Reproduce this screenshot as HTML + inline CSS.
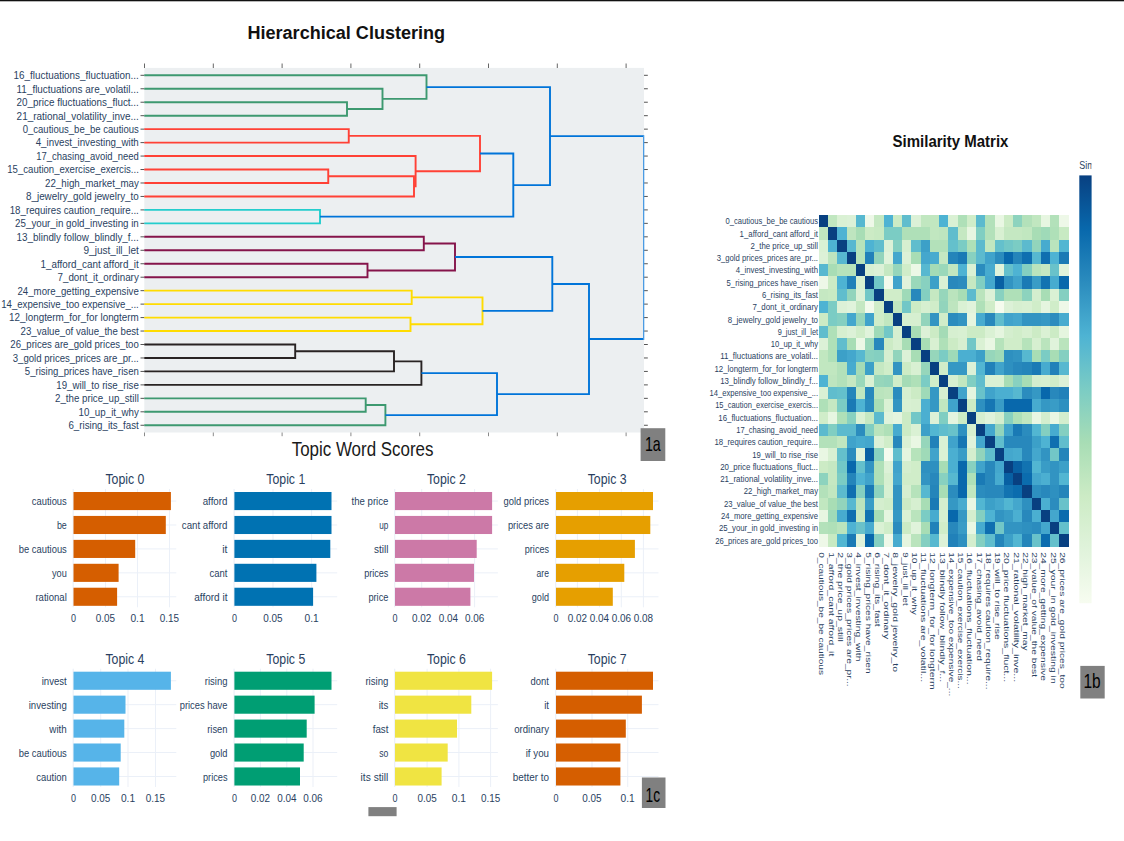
<!DOCTYPE html><html><head><meta charset="utf-8"><title>Figure</title>
<style>html,body{margin:0;padding:0;background:#fff;}svg{display:block;font-family:"Liberation Sans", sans-serif;}text{font-family:"Liberation Sans", sans-serif;}</style></head><body>
<svg width="1124" height="841" viewBox="0 0 1124 841">
<rect x="0" y="0" width="1124" height="841" fill="#ffffff"/>
<rect x="0" y="0" width="1124" height="1.3" fill="#111"/>
<rect x="144.3" y="67.9" width="499.7" height="364.6" fill="#ECEFF1"/>
<text x="346.3" y="38.8" text-anchor="middle" font-size="18" font-weight="bold" fill="#111" textLength="197.7" lengthAdjust="spacingAndGlyphs">Hierarchical Clustering</text>
<rect x="144.00" y="63.5" width="1" height="4.5" fill="#666"/>
<rect x="144.00" y="432.5" width="1" height="3.7" fill="#8a8a8a"/>
<rect x="212.80" y="63.5" width="1" height="4.5" fill="#666"/>
<rect x="212.80" y="432.5" width="1" height="3.7" fill="#8a8a8a"/>
<rect x="281.60" y="63.5" width="1" height="4.5" fill="#666"/>
<rect x="281.60" y="432.5" width="1" height="3.7" fill="#8a8a8a"/>
<rect x="350.40" y="63.5" width="1" height="4.5" fill="#666"/>
<rect x="350.40" y="432.5" width="1" height="3.7" fill="#8a8a8a"/>
<rect x="419.20" y="63.5" width="1" height="4.5" fill="#666"/>
<rect x="419.20" y="432.5" width="1" height="3.7" fill="#8a8a8a"/>
<rect x="488.00" y="63.5" width="1" height="4.5" fill="#666"/>
<rect x="488.00" y="432.5" width="1" height="3.7" fill="#8a8a8a"/>
<rect x="556.80" y="63.5" width="1" height="4.5" fill="#666"/>
<rect x="556.80" y="432.5" width="1" height="3.7" fill="#8a8a8a"/>
<rect x="625.60" y="63.5" width="1" height="4.5" fill="#666"/>
<rect x="625.60" y="432.5" width="1" height="3.7" fill="#8a8a8a"/>
<rect x="140.5" y="74.80" width="4.0" height="1" fill="#555"/>
<rect x="644.0" y="74.80" width="3.8" height="1" fill="#555"/>
<text x="138.8" y="79.15" text-anchor="end" font-size="10.2" fill="#2a3f5f" textLength="125.2" lengthAdjust="spacingAndGlyphs">16_fluctuations_fluctuation...</text>
<rect x="140.5" y="88.26" width="4.0" height="1" fill="#555"/>
<rect x="644.0" y="88.26" width="3.8" height="1" fill="#555"/>
<text x="138.8" y="92.61" text-anchor="end" font-size="10.2" fill="#2a3f5f" textLength="122.2" lengthAdjust="spacingAndGlyphs">11_fluctuations are_volatil...</text>
<rect x="140.5" y="101.72" width="4.0" height="1" fill="#555"/>
<rect x="644.0" y="101.72" width="3.8" height="1" fill="#555"/>
<text x="138.8" y="106.07" text-anchor="end" font-size="10.2" fill="#2a3f5f" textLength="122.2" lengthAdjust="spacingAndGlyphs">20_price fluctuations_fluct...</text>
<rect x="140.5" y="115.18" width="4.0" height="1" fill="#555"/>
<rect x="644.0" y="115.18" width="3.8" height="1" fill="#555"/>
<text x="138.8" y="119.53" text-anchor="end" font-size="10.2" fill="#2a3f5f" textLength="122.2" lengthAdjust="spacingAndGlyphs">21_rational_volatility_inve...</text>
<rect x="140.5" y="128.64" width="4.0" height="1" fill="#555"/>
<rect x="644.0" y="128.64" width="3.8" height="1" fill="#555"/>
<text x="138.8" y="132.99" text-anchor="end" font-size="10.2" fill="#2a3f5f" textLength="116.1" lengthAdjust="spacingAndGlyphs">0_cautious_be_be cautious</text>
<rect x="140.5" y="142.10" width="4.0" height="1" fill="#555"/>
<rect x="644.0" y="142.10" width="3.8" height="1" fill="#555"/>
<text x="138.8" y="146.45" text-anchor="end" font-size="10.2" fill="#2a3f5f" textLength="103.1" lengthAdjust="spacingAndGlyphs">4_invest_investing_with</text>
<rect x="140.5" y="155.56" width="4.0" height="1" fill="#555"/>
<rect x="644.0" y="155.56" width="3.8" height="1" fill="#555"/>
<text x="138.8" y="159.91" text-anchor="end" font-size="10.2" fill="#2a3f5f" textLength="102.5" lengthAdjust="spacingAndGlyphs">17_chasing_avoid_need</text>
<rect x="140.5" y="169.02" width="4.0" height="1" fill="#555"/>
<rect x="644.0" y="169.02" width="3.8" height="1" fill="#555"/>
<text x="138.8" y="173.37" text-anchor="end" font-size="10.2" fill="#2a3f5f" textLength="131.5" lengthAdjust="spacingAndGlyphs">15_caution_exercise_exercis...</text>
<rect x="140.5" y="182.48" width="4.0" height="1" fill="#555"/>
<rect x="644.0" y="182.48" width="3.8" height="1" fill="#555"/>
<text x="138.8" y="186.83" text-anchor="end" font-size="10.2" fill="#2a3f5f" textLength="93.7" lengthAdjust="spacingAndGlyphs">22_high_market_may</text>
<rect x="140.5" y="195.94" width="4.0" height="1" fill="#555"/>
<rect x="644.0" y="195.94" width="3.8" height="1" fill="#555"/>
<text x="138.8" y="200.29" text-anchor="end" font-size="10.2" fill="#2a3f5f" textLength="112.8" lengthAdjust="spacingAndGlyphs">8_jewelry_gold jewelry_to</text>
<rect x="140.5" y="209.40" width="4.0" height="1" fill="#555"/>
<rect x="644.0" y="209.40" width="3.8" height="1" fill="#555"/>
<text x="138.8" y="213.75" text-anchor="end" font-size="10.2" fill="#2a3f5f" textLength="129.1" lengthAdjust="spacingAndGlyphs">18_requires caution_require...</text>
<rect x="140.5" y="222.86" width="4.0" height="1" fill="#555"/>
<rect x="644.0" y="222.86" width="3.8" height="1" fill="#555"/>
<text x="138.8" y="227.21" text-anchor="end" font-size="10.2" fill="#2a3f5f" textLength="123.7" lengthAdjust="spacingAndGlyphs">25_your_in gold_investing in</text>
<rect x="140.5" y="236.32" width="4.0" height="1" fill="#555"/>
<rect x="644.0" y="236.32" width="3.8" height="1" fill="#555"/>
<text x="138.8" y="240.67" text-anchor="end" font-size="10.2" fill="#2a3f5f" textLength="122.2" lengthAdjust="spacingAndGlyphs">13_blindly follow_blindly_f...</text>
<rect x="140.5" y="249.78" width="4.0" height="1" fill="#555"/>
<rect x="644.0" y="249.78" width="3.8" height="1" fill="#555"/>
<text x="138.8" y="254.13" text-anchor="end" font-size="10.2" fill="#2a3f5f" textLength="55.3" lengthAdjust="spacingAndGlyphs">9_just_ill_let</text>
<rect x="140.5" y="263.24" width="4.0" height="1" fill="#555"/>
<rect x="644.0" y="263.24" width="3.8" height="1" fill="#555"/>
<text x="138.8" y="267.59" text-anchor="end" font-size="10.2" fill="#2a3f5f" textLength="98.3" lengthAdjust="spacingAndGlyphs">1_afford_cant afford_it</text>
<rect x="140.5" y="276.70" width="4.0" height="1" fill="#555"/>
<rect x="644.0" y="276.70" width="3.8" height="1" fill="#555"/>
<text x="138.8" y="281.05" text-anchor="end" font-size="10.2" fill="#2a3f5f" textLength="81.3" lengthAdjust="spacingAndGlyphs">7_dont_it_ordinary</text>
<rect x="140.5" y="290.16" width="4.0" height="1" fill="#555"/>
<rect x="644.0" y="290.16" width="3.8" height="1" fill="#555"/>
<text x="138.8" y="294.51" text-anchor="end" font-size="10.2" fill="#2a3f5f" textLength="121.3" lengthAdjust="spacingAndGlyphs">24_more_getting_expensive</text>
<rect x="140.5" y="303.62" width="4.0" height="1" fill="#555"/>
<rect x="644.0" y="303.62" width="3.8" height="1" fill="#555"/>
<text x="138.8" y="307.97" text-anchor="end" font-size="10.2" fill="#2a3f5f" textLength="137.6" lengthAdjust="spacingAndGlyphs">14_expensive_too expensive_...</text>
<rect x="140.5" y="317.08" width="4.0" height="1" fill="#555"/>
<rect x="644.0" y="317.08" width="3.8" height="1" fill="#555"/>
<text x="138.8" y="321.43" text-anchor="end" font-size="10.2" fill="#2a3f5f" textLength="129.7" lengthAdjust="spacingAndGlyphs">12_longterm_for_for longterm</text>
<rect x="140.5" y="330.54" width="4.0" height="1" fill="#555"/>
<rect x="644.0" y="330.54" width="3.8" height="1" fill="#555"/>
<text x="138.8" y="334.89" text-anchor="end" font-size="10.2" fill="#2a3f5f" textLength="118.2" lengthAdjust="spacingAndGlyphs">23_value_of value_the best</text>
<rect x="140.5" y="344.00" width="4.0" height="1" fill="#555"/>
<rect x="644.0" y="344.00" width="3.8" height="1" fill="#555"/>
<text x="138.8" y="348.35" text-anchor="end" font-size="10.2" fill="#2a3f5f" textLength="128.5" lengthAdjust="spacingAndGlyphs">26_prices are_gold prices_too</text>
<rect x="140.5" y="357.46" width="4.0" height="1" fill="#555"/>
<rect x="644.0" y="357.46" width="3.8" height="1" fill="#555"/>
<text x="138.8" y="361.81" text-anchor="end" font-size="10.2" fill="#2a3f5f" textLength="126.1" lengthAdjust="spacingAndGlyphs">3_gold prices_prices are_pr...</text>
<rect x="140.5" y="370.92" width="4.0" height="1" fill="#555"/>
<rect x="644.0" y="370.92" width="3.8" height="1" fill="#555"/>
<text x="138.8" y="375.27" text-anchor="end" font-size="10.2" fill="#2a3f5f" textLength="114.0" lengthAdjust="spacingAndGlyphs">5_rising_prices have_risen</text>
<rect x="140.5" y="384.38" width="4.0" height="1" fill="#555"/>
<rect x="644.0" y="384.38" width="3.8" height="1" fill="#555"/>
<text x="138.8" y="388.73" text-anchor="end" font-size="10.2" fill="#2a3f5f" textLength="82.5" lengthAdjust="spacingAndGlyphs">19_will_to rise_rise</text>
<rect x="140.5" y="397.84" width="4.0" height="1" fill="#555"/>
<rect x="644.0" y="397.84" width="3.8" height="1" fill="#555"/>
<text x="138.8" y="402.19" text-anchor="end" font-size="10.2" fill="#2a3f5f" textLength="83.8" lengthAdjust="spacingAndGlyphs">2_the price_up_still</text>
<rect x="140.5" y="411.30" width="4.0" height="1" fill="#555"/>
<rect x="644.0" y="411.30" width="3.8" height="1" fill="#555"/>
<text x="138.8" y="415.65" text-anchor="end" font-size="10.2" fill="#2a3f5f" textLength="60.2" lengthAdjust="spacingAndGlyphs">10_up_it_why</text>
<rect x="140.5" y="424.76" width="4.0" height="1" fill="#555"/>
<rect x="644.0" y="424.76" width="3.8" height="1" fill="#555"/>
<text x="138.8" y="429.11" text-anchor="end" font-size="10.2" fill="#2a3f5f" textLength="70.4" lengthAdjust="spacingAndGlyphs">6_rising_its_fast</text>
<g fill="none" stroke-width="1.9" stroke-linejoin="miter">
<path d="M144.30 102.22H347.00V115.68H144.30" stroke="#3D9970"/>
<path d="M144.30 88.76H382.50V108.95H347.00" stroke="#3D9970"/>
<path d="M144.30 75.30H426.50V98.85H382.50" stroke="#3D9970"/>
<path d="M144.30 129.14H348.75V142.60H144.30" stroke="#FF4136"/>
<path d="M144.30 169.52H328.25V182.98H144.30" stroke="#FF4136"/>
<path d="M328.25 176.25H414.00V196.44H144.30" stroke="#FF4136"/>
<path d="M144.30 156.06H415.60V186.34H414.00" stroke="#FF4136"/>
<path d="M348.75 135.87H480.00V171.20H415.60" stroke="#FF4136"/>
<path d="M144.30 209.90H320.00V223.36H144.30" stroke="#23CDCD"/>
<path d="M480.00 153.54H513.30V216.63H320.00" stroke="#0074D9"/>
<path d="M426.50 87.08H550.00V185.08H513.30" stroke="#0074D9"/>
<path d="M144.30 236.82H423.80V250.28H144.30" stroke="#85144B"/>
<path d="M144.30 263.74H367.50V277.20H144.30" stroke="#85144B"/>
<path d="M423.80 243.55H455.00V270.47H367.50" stroke="#85144B"/>
<path d="M144.30 290.66H411.70V304.12H144.30" stroke="#FFDC00"/>
<path d="M144.30 317.58H410.50V331.04H144.30" stroke="#FFDC00"/>
<path d="M411.70 297.39H482.50V324.31H410.50" stroke="#FFDC00"/>
<path d="M455.00 257.01H552.30V310.85H482.50" stroke="#0074D9"/>
<path d="M144.30 344.50H295.20V357.96H144.30" stroke="#282323"/>
<path d="M295.20 351.23H394.00V371.42H144.30" stroke="#282323"/>
<path d="M394.00 361.33H421.40V384.88H144.30" stroke="#282323"/>
<path d="M144.30 398.34H365.70V411.80H144.30" stroke="#3D9970"/>
<path d="M365.70 405.07H385.40V425.26H144.30" stroke="#3D9970"/>
<path d="M421.40 373.10H497.00V415.17H385.40" stroke="#0074D9"/>
<path d="M552.30 283.93H589.00V394.13H497.00" stroke="#0074D9"/>
<path d="M550.00 136.08H643.8M589.00 339.03H643.8" stroke="#0074D9"/>
</g>
<rect x="643.0" y="135.18" width="1.3" height="204.75" fill="#4b9be3"/>
<rect x="640.6" y="428.2" width="24.7" height="32.8" fill="#808080"/>
<text x="644.9" y="451.0" font-size="20.7" fill="#000" textLength="15.8" lengthAdjust="spacingAndGlyphs">1a</text>
<text x="362.6" y="455.7" text-anchor="middle" font-size="19.8" fill="#1a1a1a" textLength="141.8" lengthAdjust="spacingAndGlyphs">Topic Word Scores</text>
<rect x="105.00" y="489.0" width="1" height="118.3" fill="#EBF0F8"/>
<rect x="137.00" y="489.0" width="1" height="118.3" fill="#EBF0F8"/>
<rect x="169.00" y="489.0" width="1" height="118.3" fill="#EBF0F8"/>
<rect x="73.5" y="500.55" width="102.8" height="1" fill="#EBF0F8"/>
<rect x="73.5" y="524.48" width="102.8" height="1" fill="#EBF0F8"/>
<rect x="73.5" y="548.41" width="102.8" height="1" fill="#EBF0F8"/>
<rect x="73.5" y="572.34" width="102.8" height="1" fill="#EBF0F8"/>
<rect x="73.5" y="596.27" width="102.8" height="1" fill="#EBF0F8"/>
<rect x="72.60" y="489.0" width="1.2" height="118.3" fill="#EBF0F8"/>
<rect x="73.5" y="492.00" width="97.4" height="18.1" fill="#D55E00"/>
<text x="66.8" y="505.35" text-anchor="end" font-size="10.5" fill="#2a3f5f" textLength="35.0" lengthAdjust="spacingAndGlyphs">cautious</text>
<rect x="73.5" y="515.93" width="92.3" height="18.1" fill="#D55E00"/>
<text x="66.8" y="529.28" text-anchor="end" font-size="10.5" fill="#2a3f5f" textLength="9.9" lengthAdjust="spacingAndGlyphs">be</text>
<rect x="73.5" y="539.86" width="61.7" height="18.1" fill="#D55E00"/>
<text x="66.8" y="553.21" text-anchor="end" font-size="10.5" fill="#2a3f5f" textLength="48.0" lengthAdjust="spacingAndGlyphs">be cautious</text>
<rect x="73.5" y="563.79" width="45.1" height="18.1" fill="#D55E00"/>
<text x="66.8" y="577.14" text-anchor="end" font-size="10.5" fill="#2a3f5f" textLength="14.8" lengthAdjust="spacingAndGlyphs">you</text>
<rect x="73.5" y="587.72" width="43.6" height="18.1" fill="#D55E00"/>
<text x="66.8" y="601.07" text-anchor="end" font-size="10.5" fill="#2a3f5f" textLength="31.4" lengthAdjust="spacingAndGlyphs">rational</text>
<text x="73.5" y="622.0" text-anchor="middle" font-size="10.4" fill="#2a3f5f" textLength="5.0" lengthAdjust="spacingAndGlyphs">0</text>
<text x="105.5" y="622.0" text-anchor="middle" font-size="10.4" fill="#2a3f5f" textLength="19.3" lengthAdjust="spacingAndGlyphs">0.05</text>
<text x="137.5" y="622.0" text-anchor="middle" font-size="10.4" fill="#2a3f5f" textLength="14.2" lengthAdjust="spacingAndGlyphs">0.1</text>
<text x="169.5" y="622.0" text-anchor="middle" font-size="10.4" fill="#2a3f5f" textLength="19.3" lengthAdjust="spacingAndGlyphs">0.15</text>
<text x="124.9" y="484.4" text-anchor="middle" font-size="14.7" fill="#2a3f5f" textLength="39" lengthAdjust="spacingAndGlyphs">Topic 0</text>
<rect x="272.50" y="489.0" width="1" height="118.3" fill="#EBF0F8"/>
<rect x="311.10" y="489.0" width="1" height="118.3" fill="#EBF0F8"/>
<rect x="234.4" y="500.55" width="102.8" height="1" fill="#EBF0F8"/>
<rect x="234.4" y="524.48" width="102.8" height="1" fill="#EBF0F8"/>
<rect x="234.4" y="548.41" width="102.8" height="1" fill="#EBF0F8"/>
<rect x="234.4" y="572.34" width="102.8" height="1" fill="#EBF0F8"/>
<rect x="234.4" y="596.27" width="102.8" height="1" fill="#EBF0F8"/>
<rect x="233.50" y="489.0" width="1.2" height="118.3" fill="#EBF0F8"/>
<rect x="234.4" y="492.00" width="97.1" height="18.1" fill="#0072B2"/>
<text x="227.5" y="505.35" text-anchor="end" font-size="10.5" fill="#2a3f5f" textLength="24.8" lengthAdjust="spacingAndGlyphs">afford</text>
<rect x="234.4" y="515.93" width="97.1" height="18.1" fill="#0072B2"/>
<text x="227.5" y="529.28" text-anchor="end" font-size="10.5" fill="#2a3f5f" textLength="45.7" lengthAdjust="spacingAndGlyphs">cant afford</text>
<rect x="234.4" y="539.86" width="95.9" height="18.1" fill="#0072B2"/>
<text x="227.5" y="553.21" text-anchor="end" font-size="10.5" fill="#2a3f5f" textLength="5.2" lengthAdjust="spacingAndGlyphs">it</text>
<rect x="234.4" y="563.79" width="82.0" height="18.1" fill="#0072B2"/>
<text x="227.5" y="577.14" text-anchor="end" font-size="10.5" fill="#2a3f5f" textLength="17.9" lengthAdjust="spacingAndGlyphs">cant</text>
<rect x="234.4" y="587.72" width="78.7" height="18.1" fill="#0072B2"/>
<text x="227.5" y="601.07" text-anchor="end" font-size="10.5" fill="#2a3f5f" textLength="33.3" lengthAdjust="spacingAndGlyphs">afford it</text>
<text x="234.4" y="622.0" text-anchor="middle" font-size="10.4" fill="#2a3f5f" textLength="5.0" lengthAdjust="spacingAndGlyphs">0</text>
<text x="273.0" y="622.0" text-anchor="middle" font-size="10.4" fill="#2a3f5f" textLength="19.3" lengthAdjust="spacingAndGlyphs">0.05</text>
<text x="311.6" y="622.0" text-anchor="middle" font-size="10.4" fill="#2a3f5f" textLength="14.2" lengthAdjust="spacingAndGlyphs">0.1</text>
<text x="285.8" y="484.4" text-anchor="middle" font-size="14.7" fill="#2a3f5f" textLength="39" lengthAdjust="spacingAndGlyphs">Topic 1</text>
<rect x="421.20" y="489.0" width="1" height="118.3" fill="#EBF0F8"/>
<rect x="447.80" y="489.0" width="1" height="118.3" fill="#EBF0F8"/>
<rect x="474.10" y="489.0" width="1" height="118.3" fill="#EBF0F8"/>
<rect x="395.0" y="500.55" width="102.9" height="1" fill="#EBF0F8"/>
<rect x="395.0" y="524.48" width="102.9" height="1" fill="#EBF0F8"/>
<rect x="395.0" y="548.41" width="102.9" height="1" fill="#EBF0F8"/>
<rect x="395.0" y="572.34" width="102.9" height="1" fill="#EBF0F8"/>
<rect x="395.0" y="596.27" width="102.9" height="1" fill="#EBF0F8"/>
<rect x="394.10" y="489.0" width="1.2" height="118.3" fill="#EBF0F8"/>
<rect x="395.0" y="492.00" width="97.1" height="18.1" fill="#CC79A7"/>
<text x="388.4" y="505.35" text-anchor="end" font-size="10.5" fill="#2a3f5f" textLength="36.9" lengthAdjust="spacingAndGlyphs">the price</text>
<rect x="395.0" y="515.93" width="97.1" height="18.1" fill="#CC79A7"/>
<text x="388.4" y="529.28" text-anchor="end" font-size="10.5" fill="#2a3f5f" textLength="9.1" lengthAdjust="spacingAndGlyphs">up</text>
<rect x="395.0" y="539.86" width="81.7" height="18.1" fill="#CC79A7"/>
<text x="388.4" y="553.21" text-anchor="end" font-size="10.5" fill="#2a3f5f" textLength="14.5" lengthAdjust="spacingAndGlyphs">still</text>
<rect x="395.0" y="563.79" width="79.0" height="18.1" fill="#CC79A7"/>
<text x="388.4" y="577.14" text-anchor="end" font-size="10.5" fill="#2a3f5f" textLength="24.2" lengthAdjust="spacingAndGlyphs">prices</text>
<rect x="395.0" y="587.72" width="75.4" height="18.1" fill="#CC79A7"/>
<text x="388.4" y="601.07" text-anchor="end" font-size="10.5" fill="#2a3f5f" textLength="20.0" lengthAdjust="spacingAndGlyphs">price</text>
<text x="395.0" y="622.0" text-anchor="middle" font-size="10.4" fill="#2a3f5f" textLength="5.0" lengthAdjust="spacingAndGlyphs">0</text>
<text x="421.7" y="622.0" text-anchor="middle" font-size="10.4" fill="#2a3f5f" textLength="19.3" lengthAdjust="spacingAndGlyphs">0.02</text>
<text x="448.3" y="622.0" text-anchor="middle" font-size="10.4" fill="#2a3f5f" textLength="19.3" lengthAdjust="spacingAndGlyphs">0.04</text>
<text x="474.6" y="622.0" text-anchor="middle" font-size="10.4" fill="#2a3f5f" textLength="19.3" lengthAdjust="spacingAndGlyphs">0.06</text>
<text x="446.4" y="484.4" text-anchor="middle" font-size="14.7" fill="#2a3f5f" textLength="39" lengthAdjust="spacingAndGlyphs">Topic 2</text>
<rect x="576.90" y="489.0" width="1" height="118.3" fill="#EBF0F8"/>
<rect x="599.00" y="489.0" width="1" height="118.3" fill="#EBF0F8"/>
<rect x="620.80" y="489.0" width="1" height="118.3" fill="#EBF0F8"/>
<rect x="642.90" y="489.0" width="1" height="118.3" fill="#EBF0F8"/>
<rect x="556.0" y="500.55" width="102.5" height="1" fill="#EBF0F8"/>
<rect x="556.0" y="524.48" width="102.5" height="1" fill="#EBF0F8"/>
<rect x="556.0" y="548.41" width="102.5" height="1" fill="#EBF0F8"/>
<rect x="556.0" y="572.34" width="102.5" height="1" fill="#EBF0F8"/>
<rect x="556.0" y="596.27" width="102.5" height="1" fill="#EBF0F8"/>
<rect x="555.10" y="489.0" width="1.2" height="118.3" fill="#EBF0F8"/>
<rect x="556.0" y="492.00" width="97.0" height="18.1" fill="#E69F00"/>
<text x="549.0" y="505.35" text-anchor="end" font-size="10.5" fill="#2a3f5f" textLength="45.4" lengthAdjust="spacingAndGlyphs">gold prices</text>
<rect x="556.0" y="515.93" width="94.3" height="18.1" fill="#E69F00"/>
<text x="549.0" y="529.28" text-anchor="end" font-size="10.5" fill="#2a3f5f" textLength="41.1" lengthAdjust="spacingAndGlyphs">prices are</text>
<rect x="556.0" y="539.86" width="78.9" height="18.1" fill="#E69F00"/>
<text x="549.0" y="553.21" text-anchor="end" font-size="10.5" fill="#2a3f5f" textLength="24.2" lengthAdjust="spacingAndGlyphs">prices</text>
<rect x="556.0" y="563.79" width="68.3" height="18.1" fill="#E69F00"/>
<text x="549.0" y="577.14" text-anchor="end" font-size="10.5" fill="#2a3f5f" textLength="12.4" lengthAdjust="spacingAndGlyphs">are</text>
<rect x="556.0" y="587.72" width="56.8" height="18.1" fill="#E69F00"/>
<text x="549.0" y="601.07" text-anchor="end" font-size="10.5" fill="#2a3f5f" textLength="17.2" lengthAdjust="spacingAndGlyphs">gold</text>
<text x="556.0" y="622.0" text-anchor="middle" font-size="10.4" fill="#2a3f5f" textLength="5.0" lengthAdjust="spacingAndGlyphs">0</text>
<text x="577.4" y="622.0" text-anchor="middle" font-size="10.4" fill="#2a3f5f" textLength="19.3" lengthAdjust="spacingAndGlyphs">0.02</text>
<text x="599.5" y="622.0" text-anchor="middle" font-size="10.4" fill="#2a3f5f" textLength="19.3" lengthAdjust="spacingAndGlyphs">0.04</text>
<text x="621.3" y="622.0" text-anchor="middle" font-size="10.4" fill="#2a3f5f" textLength="19.3" lengthAdjust="spacingAndGlyphs">0.06</text>
<text x="643.4" y="622.0" text-anchor="middle" font-size="10.4" fill="#2a3f5f" textLength="19.3" lengthAdjust="spacingAndGlyphs">0.08</text>
<text x="607.2" y="484.4" text-anchor="middle" font-size="14.7" fill="#2a3f5f" textLength="39" lengthAdjust="spacingAndGlyphs">Topic 3</text>
<rect x="100.20" y="668.7" width="1" height="118.3" fill="#EBF0F8"/>
<rect x="127.50" y="668.7" width="1" height="118.3" fill="#EBF0F8"/>
<rect x="155.00" y="668.7" width="1" height="118.3" fill="#EBF0F8"/>
<rect x="73.5" y="680.25" width="102.8" height="1" fill="#EBF0F8"/>
<rect x="73.5" y="704.18" width="102.8" height="1" fill="#EBF0F8"/>
<rect x="73.5" y="728.11" width="102.8" height="1" fill="#EBF0F8"/>
<rect x="73.5" y="752.04" width="102.8" height="1" fill="#EBF0F8"/>
<rect x="73.5" y="775.97" width="102.8" height="1" fill="#EBF0F8"/>
<rect x="72.60" y="668.7" width="1.2" height="118.3" fill="#EBF0F8"/>
<rect x="73.5" y="671.70" width="97.4" height="18.1" fill="#56B4E9"/>
<text x="66.8" y="685.05" text-anchor="end" font-size="10.5" fill="#2a3f5f" textLength="25.1" lengthAdjust="spacingAndGlyphs">invest</text>
<rect x="73.5" y="695.63" width="52.0" height="18.1" fill="#56B4E9"/>
<text x="66.8" y="708.98" text-anchor="end" font-size="10.5" fill="#2a3f5f" textLength="38.1" lengthAdjust="spacingAndGlyphs">investing</text>
<rect x="73.5" y="719.56" width="50.8" height="18.1" fill="#56B4E9"/>
<text x="66.8" y="732.91" text-anchor="end" font-size="10.5" fill="#2a3f5f" textLength="17.5" lengthAdjust="spacingAndGlyphs">with</text>
<rect x="73.5" y="743.49" width="47.2" height="18.1" fill="#56B4E9"/>
<text x="66.8" y="756.84" text-anchor="end" font-size="10.5" fill="#2a3f5f" textLength="48.0" lengthAdjust="spacingAndGlyphs">be cautious</text>
<rect x="73.5" y="767.42" width="45.7" height="18.1" fill="#56B4E9"/>
<text x="66.8" y="780.77" text-anchor="end" font-size="10.5" fill="#2a3f5f" textLength="30.5" lengthAdjust="spacingAndGlyphs">caution</text>
<text x="73.5" y="801.6" text-anchor="middle" font-size="10.4" fill="#2a3f5f" textLength="5.0" lengthAdjust="spacingAndGlyphs">0</text>
<text x="100.7" y="801.6" text-anchor="middle" font-size="10.4" fill="#2a3f5f" textLength="19.3" lengthAdjust="spacingAndGlyphs">0.05</text>
<text x="128.0" y="801.6" text-anchor="middle" font-size="10.4" fill="#2a3f5f" textLength="14.2" lengthAdjust="spacingAndGlyphs">0.1</text>
<text x="155.5" y="801.6" text-anchor="middle" font-size="10.4" fill="#2a3f5f" textLength="19.3" lengthAdjust="spacingAndGlyphs">0.15</text>
<text x="124.9" y="663.9" text-anchor="middle" font-size="14.7" fill="#2a3f5f" textLength="39" lengthAdjust="spacingAndGlyphs">Topic 4</text>
<rect x="259.90" y="668.7" width="1" height="118.3" fill="#EBF0F8"/>
<rect x="286.30" y="668.7" width="1" height="118.3" fill="#EBF0F8"/>
<rect x="312.50" y="668.7" width="1" height="118.3" fill="#EBF0F8"/>
<rect x="234.4" y="680.25" width="102.8" height="1" fill="#EBF0F8"/>
<rect x="234.4" y="704.18" width="102.8" height="1" fill="#EBF0F8"/>
<rect x="234.4" y="728.11" width="102.8" height="1" fill="#EBF0F8"/>
<rect x="234.4" y="752.04" width="102.8" height="1" fill="#EBF0F8"/>
<rect x="234.4" y="775.97" width="102.8" height="1" fill="#EBF0F8"/>
<rect x="233.50" y="668.7" width="1.2" height="118.3" fill="#EBF0F8"/>
<rect x="234.4" y="671.70" width="97.1" height="18.1" fill="#009E73"/>
<text x="227.5" y="685.05" text-anchor="end" font-size="10.5" fill="#2a3f5f" textLength="22.7" lengthAdjust="spacingAndGlyphs">rising</text>
<rect x="234.4" y="695.63" width="80.2" height="18.1" fill="#009E73"/>
<text x="227.5" y="708.98" text-anchor="end" font-size="10.5" fill="#2a3f5f" textLength="47.8" lengthAdjust="spacingAndGlyphs">prices have</text>
<rect x="234.4" y="719.56" width="72.3" height="18.1" fill="#009E73"/>
<text x="227.5" y="732.91" text-anchor="end" font-size="10.5" fill="#2a3f5f" textLength="20.3" lengthAdjust="spacingAndGlyphs">risen</text>
<rect x="234.4" y="743.49" width="69.3" height="18.1" fill="#009E73"/>
<text x="227.5" y="756.84" text-anchor="end" font-size="10.5" fill="#2a3f5f" textLength="17.6" lengthAdjust="spacingAndGlyphs">gold</text>
<rect x="234.4" y="767.42" width="65.6" height="18.1" fill="#009E73"/>
<text x="227.5" y="780.77" text-anchor="end" font-size="10.5" fill="#2a3f5f" textLength="24.5" lengthAdjust="spacingAndGlyphs">prices</text>
<text x="234.4" y="801.6" text-anchor="middle" font-size="10.4" fill="#2a3f5f" textLength="5.0" lengthAdjust="spacingAndGlyphs">0</text>
<text x="260.4" y="801.6" text-anchor="middle" font-size="10.4" fill="#2a3f5f" textLength="19.3" lengthAdjust="spacingAndGlyphs">0.02</text>
<text x="286.8" y="801.6" text-anchor="middle" font-size="10.4" fill="#2a3f5f" textLength="19.3" lengthAdjust="spacingAndGlyphs">0.04</text>
<text x="313.0" y="801.6" text-anchor="middle" font-size="10.4" fill="#2a3f5f" textLength="19.3" lengthAdjust="spacingAndGlyphs">0.06</text>
<text x="285.8" y="663.9" text-anchor="middle" font-size="14.7" fill="#2a3f5f" textLength="39" lengthAdjust="spacingAndGlyphs">Topic 5</text>
<rect x="426.60" y="668.7" width="1" height="118.3" fill="#EBF0F8"/>
<rect x="458.40" y="668.7" width="1" height="118.3" fill="#EBF0F8"/>
<rect x="490.10" y="668.7" width="1" height="118.3" fill="#EBF0F8"/>
<rect x="395.0" y="680.25" width="102.9" height="1" fill="#EBF0F8"/>
<rect x="395.0" y="704.18" width="102.9" height="1" fill="#EBF0F8"/>
<rect x="395.0" y="728.11" width="102.9" height="1" fill="#EBF0F8"/>
<rect x="395.0" y="752.04" width="102.9" height="1" fill="#EBF0F8"/>
<rect x="395.0" y="775.97" width="102.9" height="1" fill="#EBF0F8"/>
<rect x="394.10" y="668.7" width="1.2" height="118.3" fill="#EBF0F8"/>
<rect x="395.0" y="671.70" width="97.1" height="18.1" fill="#F0E442"/>
<text x="388.4" y="685.05" text-anchor="end" font-size="10.5" fill="#2a3f5f" textLength="23.0" lengthAdjust="spacingAndGlyphs">rising</text>
<rect x="395.0" y="695.63" width="76.3" height="18.1" fill="#F0E442"/>
<text x="388.4" y="708.98" text-anchor="end" font-size="10.5" fill="#2a3f5f" textLength="9.7" lengthAdjust="spacingAndGlyphs">its</text>
<rect x="395.0" y="719.56" width="62.0" height="18.1" fill="#F0E442"/>
<text x="388.4" y="732.91" text-anchor="end" font-size="10.5" fill="#2a3f5f" textLength="15.7" lengthAdjust="spacingAndGlyphs">fast</text>
<rect x="395.0" y="743.49" width="52.7" height="18.1" fill="#F0E442"/>
<text x="388.4" y="756.84" text-anchor="end" font-size="10.5" fill="#2a3f5f" textLength="9.1" lengthAdjust="spacingAndGlyphs">so</text>
<rect x="395.0" y="767.42" width="46.6" height="18.1" fill="#F0E442"/>
<text x="388.4" y="780.77" text-anchor="end" font-size="10.5" fill="#2a3f5f" textLength="27.8" lengthAdjust="spacingAndGlyphs">its still</text>
<text x="395.0" y="801.6" text-anchor="middle" font-size="10.4" fill="#2a3f5f" textLength="5.0" lengthAdjust="spacingAndGlyphs">0</text>
<text x="427.1" y="801.6" text-anchor="middle" font-size="10.4" fill="#2a3f5f" textLength="19.3" lengthAdjust="spacingAndGlyphs">0.05</text>
<text x="458.9" y="801.6" text-anchor="middle" font-size="10.4" fill="#2a3f5f" textLength="14.2" lengthAdjust="spacingAndGlyphs">0.1</text>
<text x="490.6" y="801.6" text-anchor="middle" font-size="10.4" fill="#2a3f5f" textLength="19.3" lengthAdjust="spacingAndGlyphs">0.15</text>
<text x="446.4" y="663.9" text-anchor="middle" font-size="14.7" fill="#2a3f5f" textLength="39" lengthAdjust="spacingAndGlyphs">Topic 6</text>
<rect x="591.50" y="668.7" width="1" height="118.3" fill="#EBF0F8"/>
<rect x="627.20" y="668.7" width="1" height="118.3" fill="#EBF0F8"/>
<rect x="556.0" y="680.25" width="102.5" height="1" fill="#EBF0F8"/>
<rect x="556.0" y="704.18" width="102.5" height="1" fill="#EBF0F8"/>
<rect x="556.0" y="728.11" width="102.5" height="1" fill="#EBF0F8"/>
<rect x="556.0" y="752.04" width="102.5" height="1" fill="#EBF0F8"/>
<rect x="556.0" y="775.97" width="102.5" height="1" fill="#EBF0F8"/>
<rect x="555.10" y="668.7" width="1.2" height="118.3" fill="#EBF0F8"/>
<rect x="556.0" y="671.70" width="97.0" height="18.1" fill="#D55E00"/>
<text x="549.0" y="685.05" text-anchor="end" font-size="10.5" fill="#2a3f5f" textLength="18.4" lengthAdjust="spacingAndGlyphs">dont</text>
<rect x="556.0" y="695.63" width="85.9" height="18.1" fill="#D55E00"/>
<text x="549.0" y="708.98" text-anchor="end" font-size="10.5" fill="#2a3f5f" textLength="4.8" lengthAdjust="spacingAndGlyphs">it</text>
<rect x="556.0" y="719.56" width="69.8" height="18.1" fill="#D55E00"/>
<text x="549.0" y="732.91" text-anchor="end" font-size="10.5" fill="#2a3f5f" textLength="34.8" lengthAdjust="spacingAndGlyphs">ordinary</text>
<rect x="556.0" y="743.49" width="64.4" height="18.1" fill="#D55E00"/>
<text x="549.0" y="756.84" text-anchor="end" font-size="10.5" fill="#2a3f5f" textLength="23.3" lengthAdjust="spacingAndGlyphs">if you</text>
<rect x="556.0" y="767.42" width="64.4" height="18.1" fill="#D55E00"/>
<text x="549.0" y="780.77" text-anchor="end" font-size="10.5" fill="#2a3f5f" textLength="36.3" lengthAdjust="spacingAndGlyphs">better to</text>
<text x="556.0" y="801.6" text-anchor="middle" font-size="10.4" fill="#2a3f5f" textLength="5.0" lengthAdjust="spacingAndGlyphs">0</text>
<text x="592.0" y="801.6" text-anchor="middle" font-size="10.4" fill="#2a3f5f" textLength="19.3" lengthAdjust="spacingAndGlyphs">0.05</text>
<text x="627.7" y="801.6" text-anchor="middle" font-size="10.4" fill="#2a3f5f" textLength="14.2" lengthAdjust="spacingAndGlyphs">0.1</text>
<text x="607.2" y="663.9" text-anchor="middle" font-size="14.7" fill="#2a3f5f" textLength="39" lengthAdjust="spacingAndGlyphs">Topic 7</text>
<rect x="641.9" y="777.5" width="23.6" height="30.5" fill="#808080"/>
<text x="645.5" y="801.7" font-size="20.3" fill="#000" textLength="14.5" lengthAdjust="spacingAndGlyphs">1c</text>
<rect x="368.4" y="807.1" width="28.2" height="9.1" fill="#808080"/>
<text x="950.5" y="147.1" text-anchor="middle" font-size="16.3" font-weight="bold" fill="#111" textLength="115.9" lengthAdjust="spacingAndGlyphs">Similarity Matrix</text>
<g shape-rendering="crispEdges">
<rect x="818.90" y="215.00" width="9.55" height="12.58" fill="#084081"/>
<rect x="828.15" y="215.00" width="9.55" height="12.58" fill="#c1e7c0"/>
<rect x="837.40" y="215.00" width="9.55" height="12.58" fill="#daf1d4"/>
<rect x="846.66" y="215.00" width="9.55" height="12.58" fill="#dcf1d7"/>
<rect x="855.91" y="215.00" width="9.55" height="12.58" fill="#57b8d0"/>
<rect x="865.16" y="215.00" width="9.55" height="12.58" fill="#eef8e8"/>
<rect x="874.41" y="215.00" width="9.55" height="12.58" fill="#c5e8c2"/>
<rect x="883.66" y="215.00" width="9.55" height="12.58" fill="#4eb3d3"/>
<rect x="892.92" y="215.00" width="9.55" height="12.58" fill="#ccebc5"/>
<rect x="902.17" y="215.00" width="9.55" height="12.58" fill="#60bdcd"/>
<rect x="911.42" y="215.00" width="9.55" height="12.58" fill="#dcf1d7"/>
<rect x="920.67" y="215.00" width="9.55" height="12.58" fill="#c1e7c0"/>
<rect x="929.92" y="215.00" width="9.55" height="12.58" fill="#c1e7c0"/>
<rect x="939.18" y="215.00" width="9.55" height="12.58" fill="#4eb3d3"/>
<rect x="948.43" y="215.00" width="9.55" height="12.58" fill="#daf1d4"/>
<rect x="957.68" y="215.00" width="9.55" height="12.58" fill="#afe0b8"/>
<rect x="966.93" y="215.00" width="9.55" height="12.58" fill="#d0edc9"/>
<rect x="976.18" y="215.00" width="9.55" height="12.58" fill="#5cbace"/>
<rect x="985.44" y="215.00" width="9.55" height="12.58" fill="#b3e1ba"/>
<rect x="994.69" y="215.00" width="9.55" height="12.58" fill="#e9f7e3"/>
<rect x="1003.94" y="215.00" width="9.55" height="12.58" fill="#ccebc5"/>
<rect x="1013.19" y="215.00" width="9.55" height="12.58" fill="#8dd3be"/>
<rect x="1022.44" y="215.00" width="9.55" height="12.58" fill="#b3e1ba"/>
<rect x="1031.70" y="215.00" width="9.55" height="12.58" fill="#c1e7c0"/>
<rect x="1040.95" y="215.00" width="9.55" height="12.58" fill="#e7f6e1"/>
<rect x="1050.20" y="215.00" width="9.55" height="12.58" fill="#b3e1ba"/>
<rect x="1059.45" y="215.00" width="9.55" height="12.58" fill="#eef8e8"/>
<rect x="818.90" y="227.28" width="9.55" height="12.58" fill="#c1e7c0"/>
<rect x="828.15" y="227.28" width="9.55" height="12.58" fill="#084081"/>
<rect x="837.40" y="227.28" width="9.55" height="12.58" fill="#4eb3d3"/>
<rect x="846.66" y="227.28" width="9.55" height="12.58" fill="#bee5bf"/>
<rect x="855.91" y="227.28" width="9.55" height="12.58" fill="#a8ddb5"/>
<rect x="865.16" y="227.28" width="9.55" height="12.58" fill="#ccebc5"/>
<rect x="874.41" y="227.28" width="9.55" height="12.58" fill="#c8eac3"/>
<rect x="883.66" y="227.28" width="9.55" height="12.58" fill="#7bccc4"/>
<rect x="892.92" y="227.28" width="9.55" height="12.58" fill="#7bccc4"/>
<rect x="902.17" y="227.28" width="9.55" height="12.58" fill="#afe0b8"/>
<rect x="911.42" y="227.28" width="9.55" height="12.58" fill="#afe0b8"/>
<rect x="920.67" y="227.28" width="9.55" height="12.58" fill="#afe0b8"/>
<rect x="929.92" y="227.28" width="9.55" height="12.58" fill="#c1e7c0"/>
<rect x="939.18" y="227.28" width="9.55" height="12.58" fill="#bee5bf"/>
<rect x="948.43" y="227.28" width="9.55" height="12.58" fill="#60bdcd"/>
<rect x="957.68" y="227.28" width="9.55" height="12.58" fill="#c5e8c2"/>
<rect x="966.93" y="227.28" width="9.55" height="12.58" fill="#e7f6e1"/>
<rect x="976.18" y="227.28" width="9.55" height="12.58" fill="#80cec2"/>
<rect x="985.44" y="227.28" width="9.55" height="12.58" fill="#b3e1ba"/>
<rect x="994.69" y="227.28" width="9.55" height="12.58" fill="#d8f0d2"/>
<rect x="1003.94" y="227.28" width="9.55" height="12.58" fill="#c5e8c2"/>
<rect x="1013.19" y="227.28" width="9.55" height="12.58" fill="#c5e8c2"/>
<rect x="1022.44" y="227.28" width="9.55" height="12.58" fill="#c1e7c0"/>
<rect x="1031.70" y="227.28" width="9.55" height="12.58" fill="#a8ddb5"/>
<rect x="1040.95" y="227.28" width="9.55" height="12.58" fill="#9fdab8"/>
<rect x="1050.20" y="227.28" width="9.55" height="12.58" fill="#afe0b8"/>
<rect x="1059.45" y="227.28" width="9.55" height="12.58" fill="#c8eac3"/>
<rect x="818.90" y="239.57" width="9.55" height="12.58" fill="#daf1d4"/>
<rect x="828.15" y="239.57" width="9.55" height="12.58" fill="#4eb3d3"/>
<rect x="837.40" y="239.57" width="9.55" height="12.58" fill="#084081"/>
<rect x="846.66" y="239.57" width="9.55" height="12.58" fill="#57b8d0"/>
<rect x="855.91" y="239.57" width="9.55" height="12.58" fill="#b6e3bb"/>
<rect x="865.16" y="239.57" width="9.55" height="12.58" fill="#4eb3d3"/>
<rect x="874.41" y="239.57" width="9.55" height="12.58" fill="#60bdcd"/>
<rect x="883.66" y="239.57" width="9.55" height="12.58" fill="#dcf1d7"/>
<rect x="892.92" y="239.57" width="9.55" height="12.58" fill="#84cfc1"/>
<rect x="902.17" y="239.57" width="9.55" height="12.58" fill="#d6efd0"/>
<rect x="911.42" y="239.57" width="9.55" height="12.58" fill="#60bdcd"/>
<rect x="920.67" y="239.57" width="9.55" height="12.58" fill="#3ca0c8"/>
<rect x="929.92" y="239.57" width="9.55" height="12.58" fill="#b3e1ba"/>
<rect x="939.18" y="239.57" width="9.55" height="12.58" fill="#b3e1ba"/>
<rect x="948.43" y="239.57" width="9.55" height="12.58" fill="#64c0cc"/>
<rect x="957.68" y="239.57" width="9.55" height="12.58" fill="#7bccc4"/>
<rect x="966.93" y="239.57" width="9.55" height="12.58" fill="#afe0b8"/>
<rect x="976.18" y="239.57" width="9.55" height="12.58" fill="#5cbace"/>
<rect x="985.44" y="239.57" width="9.55" height="12.58" fill="#c1e7c0"/>
<rect x="994.69" y="239.57" width="9.55" height="12.58" fill="#64c0cc"/>
<rect x="1003.94" y="239.57" width="9.55" height="12.58" fill="#72c7c7"/>
<rect x="1013.19" y="239.57" width="9.55" height="12.58" fill="#7bccc4"/>
<rect x="1022.44" y="239.57" width="9.55" height="12.58" fill="#5cbace"/>
<rect x="1031.70" y="239.57" width="9.55" height="12.58" fill="#92d4bc"/>
<rect x="1040.95" y="239.57" width="9.55" height="12.58" fill="#47abcf"/>
<rect x="1050.20" y="239.57" width="9.55" height="12.58" fill="#bae4bd"/>
<rect x="1059.45" y="239.57" width="9.55" height="12.58" fill="#52b6d2"/>
<rect x="818.90" y="251.85" width="9.55" height="12.58" fill="#dcf1d7"/>
<rect x="828.15" y="251.85" width="9.55" height="12.58" fill="#bee5bf"/>
<rect x="837.40" y="251.85" width="9.55" height="12.58" fill="#57b8d0"/>
<rect x="846.66" y="251.85" width="9.55" height="12.58" fill="#084081"/>
<rect x="855.91" y="251.85" width="9.55" height="12.58" fill="#b6e3bb"/>
<rect x="865.16" y="251.85" width="9.55" height="12.58" fill="#2181b9"/>
<rect x="874.41" y="251.85" width="9.55" height="12.58" fill="#92d4bc"/>
<rect x="883.66" y="251.85" width="9.55" height="12.58" fill="#e0f3db"/>
<rect x="892.92" y="251.85" width="9.55" height="12.58" fill="#44a7cd"/>
<rect x="902.17" y="251.85" width="9.55" height="12.58" fill="#dcf1d7"/>
<rect x="911.42" y="251.85" width="9.55" height="12.58" fill="#a8ddb5"/>
<rect x="920.67" y="251.85" width="9.55" height="12.58" fill="#44a7cd"/>
<rect x="929.92" y="251.85" width="9.55" height="12.58" fill="#47abcf"/>
<rect x="939.18" y="251.85" width="9.55" height="12.58" fill="#c5e8c2"/>
<rect x="948.43" y="251.85" width="9.55" height="12.58" fill="#2485ba"/>
<rect x="957.68" y="251.85" width="9.55" height="12.58" fill="#1a7ab5"/>
<rect x="966.93" y="251.85" width="9.55" height="12.58" fill="#88d1c0"/>
<rect x="976.18" y="251.85" width="9.55" height="12.58" fill="#5cbace"/>
<rect x="985.44" y="251.85" width="9.55" height="12.58" fill="#40a3cb"/>
<rect x="994.69" y="251.85" width="9.55" height="12.58" fill="#2b8cbe"/>
<rect x="1003.94" y="251.85" width="9.55" height="12.58" fill="#0868ac"/>
<rect x="1013.19" y="251.85" width="9.55" height="12.58" fill="#2485ba"/>
<rect x="1022.44" y="251.85" width="9.55" height="12.58" fill="#0f6fb0"/>
<rect x="1031.70" y="251.85" width="9.55" height="12.58" fill="#57b8d0"/>
<rect x="1040.95" y="251.85" width="9.55" height="12.58" fill="#0f6fb0"/>
<rect x="1050.20" y="251.85" width="9.55" height="12.58" fill="#4eb3d3"/>
<rect x="1059.45" y="251.85" width="9.55" height="12.58" fill="#1a7ab5"/>
<rect x="818.90" y="264.13" width="9.55" height="12.58" fill="#57b8d0"/>
<rect x="828.15" y="264.13" width="9.55" height="12.58" fill="#a8ddb5"/>
<rect x="837.40" y="264.13" width="9.55" height="12.58" fill="#b6e3bb"/>
<rect x="846.66" y="264.13" width="9.55" height="12.58" fill="#b6e3bb"/>
<rect x="855.91" y="264.13" width="9.55" height="12.58" fill="#084081"/>
<rect x="865.16" y="264.13" width="9.55" height="12.58" fill="#d8f0d2"/>
<rect x="874.41" y="264.13" width="9.55" height="12.58" fill="#dcf1d7"/>
<rect x="883.66" y="264.13" width="9.55" height="12.58" fill="#c5e8c2"/>
<rect x="892.92" y="264.13" width="9.55" height="12.58" fill="#96d6bb"/>
<rect x="902.17" y="264.13" width="9.55" height="12.58" fill="#d0edc9"/>
<rect x="911.42" y="264.13" width="9.55" height="12.58" fill="#ecf8e6"/>
<rect x="920.67" y="264.13" width="9.55" height="12.58" fill="#57b8d0"/>
<rect x="929.92" y="264.13" width="9.55" height="12.58" fill="#a4dbb6"/>
<rect x="939.18" y="264.13" width="9.55" height="12.58" fill="#9ad8ba"/>
<rect x="948.43" y="264.13" width="9.55" height="12.58" fill="#c1e7c0"/>
<rect x="957.68" y="264.13" width="9.55" height="12.58" fill="#4eb3d3"/>
<rect x="966.93" y="264.13" width="9.55" height="12.58" fill="#daf1d4"/>
<rect x="976.18" y="264.13" width="9.55" height="12.58" fill="#2b8cbe"/>
<rect x="985.44" y="264.13" width="9.55" height="12.58" fill="#47abcf"/>
<rect x="994.69" y="264.13" width="9.55" height="12.58" fill="#e0f3db"/>
<rect x="1003.94" y="264.13" width="9.55" height="12.58" fill="#64c0cc"/>
<rect x="1013.19" y="264.13" width="9.55" height="12.58" fill="#4eb3d3"/>
<rect x="1022.44" y="264.13" width="9.55" height="12.58" fill="#84cfc1"/>
<rect x="1031.70" y="264.13" width="9.55" height="12.58" fill="#bae4bd"/>
<rect x="1040.95" y="264.13" width="9.55" height="12.58" fill="#c5e8c2"/>
<rect x="1050.20" y="264.13" width="9.55" height="12.58" fill="#69c2ca"/>
<rect x="1059.45" y="264.13" width="9.55" height="12.58" fill="#e0f3db"/>
<rect x="818.90" y="276.42" width="9.55" height="12.58" fill="#eef8e8"/>
<rect x="828.15" y="276.42" width="9.55" height="12.58" fill="#ccebc5"/>
<rect x="837.40" y="276.42" width="9.55" height="12.58" fill="#4eb3d3"/>
<rect x="846.66" y="276.42" width="9.55" height="12.58" fill="#2181b9"/>
<rect x="855.91" y="276.42" width="9.55" height="12.58" fill="#d8f0d2"/>
<rect x="865.16" y="276.42" width="9.55" height="12.58" fill="#084081"/>
<rect x="874.41" y="276.42" width="9.55" height="12.58" fill="#72c7c7"/>
<rect x="883.66" y="276.42" width="9.55" height="12.58" fill="#f2faec"/>
<rect x="892.92" y="276.42" width="9.55" height="12.58" fill="#40a3cb"/>
<rect x="902.17" y="276.42" width="9.55" height="12.58" fill="#e0f3db"/>
<rect x="911.42" y="276.42" width="9.55" height="12.58" fill="#9ad8ba"/>
<rect x="920.67" y="276.42" width="9.55" height="12.58" fill="#88d1c0"/>
<rect x="929.92" y="276.42" width="9.55" height="12.58" fill="#3ca0c8"/>
<rect x="939.18" y="276.42" width="9.55" height="12.58" fill="#daf1d4"/>
<rect x="948.43" y="276.42" width="9.55" height="12.58" fill="#2888bc"/>
<rect x="957.68" y="276.42" width="9.55" height="12.58" fill="#2b8cbe"/>
<rect x="966.93" y="276.42" width="9.55" height="12.58" fill="#c5e8c2"/>
<rect x="976.18" y="276.42" width="9.55" height="12.58" fill="#80cec2"/>
<rect x="985.44" y="276.42" width="9.55" height="12.58" fill="#44a7cd"/>
<rect x="994.69" y="276.42" width="9.55" height="12.58" fill="#0860a3"/>
<rect x="1003.94" y="276.42" width="9.55" height="12.58" fill="#3294c2"/>
<rect x="1013.19" y="276.42" width="9.55" height="12.58" fill="#40a3cb"/>
<rect x="1022.44" y="276.42" width="9.55" height="12.58" fill="#1a7ab5"/>
<rect x="1031.70" y="276.42" width="9.55" height="12.58" fill="#399cc6"/>
<rect x="1040.95" y="276.42" width="9.55" height="12.58" fill="#1273b1"/>
<rect x="1050.20" y="276.42" width="9.55" height="12.58" fill="#47abcf"/>
<rect x="1059.45" y="276.42" width="9.55" height="12.58" fill="#0868ac"/>
<rect x="818.90" y="288.70" width="9.55" height="12.58" fill="#c5e8c2"/>
<rect x="828.15" y="288.70" width="9.55" height="12.58" fill="#c8eac3"/>
<rect x="837.40" y="288.70" width="9.55" height="12.58" fill="#60bdcd"/>
<rect x="846.66" y="288.70" width="9.55" height="12.58" fill="#92d4bc"/>
<rect x="855.91" y="288.70" width="9.55" height="12.58" fill="#dcf1d7"/>
<rect x="865.16" y="288.70" width="9.55" height="12.58" fill="#72c7c7"/>
<rect x="874.41" y="288.70" width="9.55" height="12.58" fill="#084081"/>
<rect x="883.66" y="288.70" width="9.55" height="12.58" fill="#d0edc9"/>
<rect x="892.92" y="288.70" width="9.55" height="12.58" fill="#d0edc9"/>
<rect x="902.17" y="288.70" width="9.55" height="12.58" fill="#9fdab8"/>
<rect x="911.42" y="288.70" width="9.55" height="12.58" fill="#2888bc"/>
<rect x="920.67" y="288.70" width="9.55" height="12.58" fill="#84cfc1"/>
<rect x="929.92" y="288.70" width="9.55" height="12.58" fill="#c5e8c2"/>
<rect x="939.18" y="288.70" width="9.55" height="12.58" fill="#96d6bb"/>
<rect x="948.43" y="288.70" width="9.55" height="12.58" fill="#bae4bd"/>
<rect x="957.68" y="288.70" width="9.55" height="12.58" fill="#a8ddb5"/>
<rect x="966.93" y="288.70" width="9.55" height="12.58" fill="#5cbace"/>
<rect x="976.18" y="288.70" width="9.55" height="12.58" fill="#bae4bd"/>
<rect x="985.44" y="288.70" width="9.55" height="12.58" fill="#dcf1d7"/>
<rect x="994.69" y="288.70" width="9.55" height="12.58" fill="#88d1c0"/>
<rect x="1003.94" y="288.70" width="9.55" height="12.58" fill="#afe0b8"/>
<rect x="1013.19" y="288.70" width="9.55" height="12.58" fill="#afe0b8"/>
<rect x="1022.44" y="288.70" width="9.55" height="12.58" fill="#8dd3be"/>
<rect x="1031.70" y="288.70" width="9.55" height="12.58" fill="#d4eece"/>
<rect x="1040.95" y="288.70" width="9.55" height="12.58" fill="#a8ddb5"/>
<rect x="1050.20" y="288.70" width="9.55" height="12.58" fill="#daf1d4"/>
<rect x="1059.45" y="288.70" width="9.55" height="12.58" fill="#84cfc1"/>
<rect x="818.90" y="300.98" width="9.55" height="12.58" fill="#4eb3d3"/>
<rect x="828.15" y="300.98" width="9.55" height="12.58" fill="#7bccc4"/>
<rect x="837.40" y="300.98" width="9.55" height="12.58" fill="#dcf1d7"/>
<rect x="846.66" y="300.98" width="9.55" height="12.58" fill="#e0f3db"/>
<rect x="855.91" y="300.98" width="9.55" height="12.58" fill="#c5e8c2"/>
<rect x="865.16" y="300.98" width="9.55" height="12.58" fill="#f2faec"/>
<rect x="874.41" y="300.98" width="9.55" height="12.58" fill="#d0edc9"/>
<rect x="883.66" y="300.98" width="9.55" height="12.58" fill="#084081"/>
<rect x="892.92" y="300.98" width="9.55" height="12.58" fill="#c1e7c0"/>
<rect x="902.17" y="300.98" width="9.55" height="12.58" fill="#72c7c7"/>
<rect x="911.42" y="300.98" width="9.55" height="12.58" fill="#ccebc5"/>
<rect x="920.67" y="300.98" width="9.55" height="12.58" fill="#d6efd0"/>
<rect x="929.92" y="300.98" width="9.55" height="12.58" fill="#d0edc9"/>
<rect x="939.18" y="300.98" width="9.55" height="12.58" fill="#92d4bc"/>
<rect x="948.43" y="300.98" width="9.55" height="12.58" fill="#bee5bf"/>
<rect x="957.68" y="300.98" width="9.55" height="12.58" fill="#daf1d4"/>
<rect x="966.93" y="300.98" width="9.55" height="12.58" fill="#e0f3db"/>
<rect x="976.18" y="300.98" width="9.55" height="12.58" fill="#afe0b8"/>
<rect x="985.44" y="300.98" width="9.55" height="12.58" fill="#d0edc9"/>
<rect x="994.69" y="300.98" width="9.55" height="12.58" fill="#f5fbee"/>
<rect x="1003.94" y="300.98" width="9.55" height="12.58" fill="#dcf1d7"/>
<rect x="1013.19" y="300.98" width="9.55" height="12.58" fill="#d6efd0"/>
<rect x="1022.44" y="300.98" width="9.55" height="12.58" fill="#d8f0d2"/>
<rect x="1031.70" y="300.98" width="9.55" height="12.58" fill="#d0edc9"/>
<rect x="1040.95" y="300.98" width="9.55" height="12.58" fill="#e5f5df"/>
<rect x="1050.20" y="300.98" width="9.55" height="12.58" fill="#d0edc9"/>
<rect x="1059.45" y="300.98" width="9.55" height="12.58" fill="#eef8e8"/>
<rect x="818.90" y="313.26" width="9.55" height="12.58" fill="#ccebc5"/>
<rect x="828.15" y="313.26" width="9.55" height="12.58" fill="#7bccc4"/>
<rect x="837.40" y="313.26" width="9.55" height="12.58" fill="#84cfc1"/>
<rect x="846.66" y="313.26" width="9.55" height="12.58" fill="#44a7cd"/>
<rect x="855.91" y="313.26" width="9.55" height="12.58" fill="#96d6bb"/>
<rect x="865.16" y="313.26" width="9.55" height="12.58" fill="#40a3cb"/>
<rect x="874.41" y="313.26" width="9.55" height="12.58" fill="#d0edc9"/>
<rect x="883.66" y="313.26" width="9.55" height="12.58" fill="#c1e7c0"/>
<rect x="892.92" y="313.26" width="9.55" height="12.58" fill="#084081"/>
<rect x="902.17" y="313.26" width="9.55" height="12.58" fill="#d6efd0"/>
<rect x="911.42" y="313.26" width="9.55" height="12.58" fill="#d6efd0"/>
<rect x="920.67" y="313.26" width="9.55" height="12.58" fill="#92d4bc"/>
<rect x="929.92" y="313.26" width="9.55" height="12.58" fill="#3294c2"/>
<rect x="939.18" y="313.26" width="9.55" height="12.58" fill="#d0edc9"/>
<rect x="948.43" y="313.26" width="9.55" height="12.58" fill="#2b8cbe"/>
<rect x="957.68" y="313.26" width="9.55" height="12.58" fill="#3294c2"/>
<rect x="966.93" y="313.26" width="9.55" height="12.58" fill="#e5f5df"/>
<rect x="976.18" y="313.26" width="9.55" height="12.58" fill="#47abcf"/>
<rect x="985.44" y="313.26" width="9.55" height="12.58" fill="#2888bc"/>
<rect x="994.69" y="313.26" width="9.55" height="12.58" fill="#60bdcd"/>
<rect x="1003.94" y="313.26" width="9.55" height="12.58" fill="#40a3cb"/>
<rect x="1013.19" y="313.26" width="9.55" height="12.58" fill="#44a7cd"/>
<rect x="1022.44" y="313.26" width="9.55" height="12.58" fill="#3294c2"/>
<rect x="1031.70" y="313.26" width="9.55" height="12.58" fill="#3294c2"/>
<rect x="1040.95" y="313.26" width="9.55" height="12.58" fill="#3598c4"/>
<rect x="1050.20" y="313.26" width="9.55" height="12.58" fill="#2b8cbe"/>
<rect x="1059.45" y="313.26" width="9.55" height="12.58" fill="#47abcf"/>
<rect x="818.90" y="325.55" width="9.55" height="12.58" fill="#60bdcd"/>
<rect x="828.15" y="325.55" width="9.55" height="12.58" fill="#afe0b8"/>
<rect x="837.40" y="325.55" width="9.55" height="12.58" fill="#d6efd0"/>
<rect x="846.66" y="325.55" width="9.55" height="12.58" fill="#dcf1d7"/>
<rect x="855.91" y="325.55" width="9.55" height="12.58" fill="#d0edc9"/>
<rect x="865.16" y="325.55" width="9.55" height="12.58" fill="#e0f3db"/>
<rect x="874.41" y="325.55" width="9.55" height="12.58" fill="#9fdab8"/>
<rect x="883.66" y="325.55" width="9.55" height="12.58" fill="#72c7c7"/>
<rect x="892.92" y="325.55" width="9.55" height="12.58" fill="#d6efd0"/>
<rect x="902.17" y="325.55" width="9.55" height="12.58" fill="#084081"/>
<rect x="911.42" y="325.55" width="9.55" height="12.58" fill="#a8ddb5"/>
<rect x="920.67" y="325.55" width="9.55" height="12.58" fill="#dcf1d7"/>
<rect x="929.92" y="325.55" width="9.55" height="12.58" fill="#ccebc5"/>
<rect x="939.18" y="325.55" width="9.55" height="12.58" fill="#a4dbb6"/>
<rect x="948.43" y="325.55" width="9.55" height="12.58" fill="#d6efd0"/>
<rect x="957.68" y="325.55" width="9.55" height="12.58" fill="#d8f0d2"/>
<rect x="966.93" y="325.55" width="9.55" height="12.58" fill="#ccebc5"/>
<rect x="976.18" y="325.55" width="9.55" height="12.58" fill="#ccebc5"/>
<rect x="985.44" y="325.55" width="9.55" height="12.58" fill="#daf1d4"/>
<rect x="994.69" y="325.55" width="9.55" height="12.58" fill="#e5f5df"/>
<rect x="1003.94" y="325.55" width="9.55" height="12.58" fill="#d4eece"/>
<rect x="1013.19" y="325.55" width="9.55" height="12.58" fill="#d0edc9"/>
<rect x="1022.44" y="325.55" width="9.55" height="12.58" fill="#d6efd0"/>
<rect x="1031.70" y="325.55" width="9.55" height="12.58" fill="#ccebc5"/>
<rect x="1040.95" y="325.55" width="9.55" height="12.58" fill="#daf1d4"/>
<rect x="1050.20" y="325.55" width="9.55" height="12.58" fill="#ccebc5"/>
<rect x="1059.45" y="325.55" width="9.55" height="12.58" fill="#e5f5df"/>
<rect x="818.90" y="337.83" width="9.55" height="12.58" fill="#dcf1d7"/>
<rect x="828.15" y="337.83" width="9.55" height="12.58" fill="#afe0b8"/>
<rect x="837.40" y="337.83" width="9.55" height="12.58" fill="#60bdcd"/>
<rect x="846.66" y="337.83" width="9.55" height="12.58" fill="#a8ddb5"/>
<rect x="855.91" y="337.83" width="9.55" height="12.58" fill="#ecf8e6"/>
<rect x="865.16" y="337.83" width="9.55" height="12.58" fill="#9ad8ba"/>
<rect x="874.41" y="337.83" width="9.55" height="12.58" fill="#2888bc"/>
<rect x="883.66" y="337.83" width="9.55" height="12.58" fill="#ccebc5"/>
<rect x="892.92" y="337.83" width="9.55" height="12.58" fill="#d6efd0"/>
<rect x="902.17" y="337.83" width="9.55" height="12.58" fill="#a8ddb5"/>
<rect x="911.42" y="337.83" width="9.55" height="12.58" fill="#084081"/>
<rect x="920.67" y="337.83" width="9.55" height="12.58" fill="#a8ddb5"/>
<rect x="929.92" y="337.83" width="9.55" height="12.58" fill="#d8f0d2"/>
<rect x="939.18" y="337.83" width="9.55" height="12.58" fill="#afe0b8"/>
<rect x="948.43" y="337.83" width="9.55" height="12.58" fill="#ccebc5"/>
<rect x="957.68" y="337.83" width="9.55" height="12.58" fill="#d6efd0"/>
<rect x="966.93" y="337.83" width="9.55" height="12.58" fill="#72c7c7"/>
<rect x="976.18" y="337.83" width="9.55" height="12.58" fill="#daf1d4"/>
<rect x="985.44" y="337.83" width="9.55" height="12.58" fill="#e9f7e3"/>
<rect x="994.69" y="337.83" width="9.55" height="12.58" fill="#b6e3bb"/>
<rect x="1003.94" y="337.83" width="9.55" height="12.58" fill="#d0edc9"/>
<rect x="1013.19" y="337.83" width="9.55" height="12.58" fill="#d0edc9"/>
<rect x="1022.44" y="337.83" width="9.55" height="12.58" fill="#b6e3bb"/>
<rect x="1031.70" y="337.83" width="9.55" height="12.58" fill="#d6efd0"/>
<rect x="1040.95" y="337.83" width="9.55" height="12.58" fill="#bae4bd"/>
<rect x="1050.20" y="337.83" width="9.55" height="12.58" fill="#e0f3db"/>
<rect x="1059.45" y="337.83" width="9.55" height="12.58" fill="#bae4bd"/>
<rect x="818.90" y="350.11" width="9.55" height="12.58" fill="#c1e7c0"/>
<rect x="828.15" y="350.11" width="9.55" height="12.58" fill="#afe0b8"/>
<rect x="837.40" y="350.11" width="9.55" height="12.58" fill="#3ca0c8"/>
<rect x="846.66" y="350.11" width="9.55" height="12.58" fill="#44a7cd"/>
<rect x="855.91" y="350.11" width="9.55" height="12.58" fill="#57b8d0"/>
<rect x="865.16" y="350.11" width="9.55" height="12.58" fill="#88d1c0"/>
<rect x="874.41" y="350.11" width="9.55" height="12.58" fill="#84cfc1"/>
<rect x="883.66" y="350.11" width="9.55" height="12.58" fill="#d6efd0"/>
<rect x="892.92" y="350.11" width="9.55" height="12.58" fill="#92d4bc"/>
<rect x="902.17" y="350.11" width="9.55" height="12.58" fill="#dcf1d7"/>
<rect x="911.42" y="350.11" width="9.55" height="12.58" fill="#a8ddb5"/>
<rect x="920.67" y="350.11" width="9.55" height="12.58" fill="#084081"/>
<rect x="929.92" y="350.11" width="9.55" height="12.58" fill="#96d6bb"/>
<rect x="939.18" y="350.11" width="9.55" height="12.58" fill="#7bccc4"/>
<rect x="948.43" y="350.11" width="9.55" height="12.58" fill="#9fdab8"/>
<rect x="957.68" y="350.11" width="9.55" height="12.58" fill="#4bafd1"/>
<rect x="966.93" y="350.11" width="9.55" height="12.58" fill="#4bafd1"/>
<rect x="976.18" y="350.11" width="9.55" height="12.58" fill="#3ca0c8"/>
<rect x="985.44" y="350.11" width="9.55" height="12.58" fill="#96d6bb"/>
<rect x="994.69" y="350.11" width="9.55" height="12.58" fill="#9fdab8"/>
<rect x="1003.94" y="350.11" width="9.55" height="12.58" fill="#2e90c0"/>
<rect x="1013.19" y="350.11" width="9.55" height="12.58" fill="#3294c2"/>
<rect x="1022.44" y="350.11" width="9.55" height="12.58" fill="#57b8d0"/>
<rect x="1031.70" y="350.11" width="9.55" height="12.58" fill="#a8ddb5"/>
<rect x="1040.95" y="350.11" width="9.55" height="12.58" fill="#7bccc4"/>
<rect x="1050.20" y="350.11" width="9.55" height="12.58" fill="#a8ddb5"/>
<rect x="1059.45" y="350.11" width="9.55" height="12.58" fill="#84cfc1"/>
<rect x="818.90" y="362.40" width="9.55" height="12.58" fill="#c1e7c0"/>
<rect x="828.15" y="362.40" width="9.55" height="12.58" fill="#c1e7c0"/>
<rect x="837.40" y="362.40" width="9.55" height="12.58" fill="#b3e1ba"/>
<rect x="846.66" y="362.40" width="9.55" height="12.58" fill="#47abcf"/>
<rect x="855.91" y="362.40" width="9.55" height="12.58" fill="#a4dbb6"/>
<rect x="865.16" y="362.40" width="9.55" height="12.58" fill="#3ca0c8"/>
<rect x="874.41" y="362.40" width="9.55" height="12.58" fill="#c5e8c2"/>
<rect x="883.66" y="362.40" width="9.55" height="12.58" fill="#d0edc9"/>
<rect x="892.92" y="362.40" width="9.55" height="12.58" fill="#3294c2"/>
<rect x="902.17" y="362.40" width="9.55" height="12.58" fill="#ccebc5"/>
<rect x="911.42" y="362.40" width="9.55" height="12.58" fill="#d8f0d2"/>
<rect x="920.67" y="362.40" width="9.55" height="12.58" fill="#96d6bb"/>
<rect x="929.92" y="362.40" width="9.55" height="12.58" fill="#084081"/>
<rect x="939.18" y="362.40" width="9.55" height="12.58" fill="#d0edc9"/>
<rect x="948.43" y="362.40" width="9.55" height="12.58" fill="#3598c4"/>
<rect x="957.68" y="362.40" width="9.55" height="12.58" fill="#3598c4"/>
<rect x="966.93" y="362.40" width="9.55" height="12.58" fill="#dcf1d7"/>
<rect x="976.18" y="362.40" width="9.55" height="12.58" fill="#52b6d2"/>
<rect x="985.44" y="362.40" width="9.55" height="12.58" fill="#2181b9"/>
<rect x="994.69" y="362.40" width="9.55" height="12.58" fill="#40a3cb"/>
<rect x="1003.94" y="362.40" width="9.55" height="12.58" fill="#2e90c0"/>
<rect x="1013.19" y="362.40" width="9.55" height="12.58" fill="#2888bc"/>
<rect x="1022.44" y="362.40" width="9.55" height="12.58" fill="#2485ba"/>
<rect x="1031.70" y="362.40" width="9.55" height="12.58" fill="#1a7ab5"/>
<rect x="1040.95" y="362.40" width="9.55" height="12.58" fill="#47abcf"/>
<rect x="1050.20" y="362.40" width="9.55" height="12.58" fill="#2181b9"/>
<rect x="1059.45" y="362.40" width="9.55" height="12.58" fill="#57b8d0"/>
<rect x="818.90" y="374.68" width="9.55" height="12.58" fill="#4eb3d3"/>
<rect x="828.15" y="374.68" width="9.55" height="12.58" fill="#bee5bf"/>
<rect x="837.40" y="374.68" width="9.55" height="12.58" fill="#b3e1ba"/>
<rect x="846.66" y="374.68" width="9.55" height="12.58" fill="#c5e8c2"/>
<rect x="855.91" y="374.68" width="9.55" height="12.58" fill="#9ad8ba"/>
<rect x="865.16" y="374.68" width="9.55" height="12.58" fill="#daf1d4"/>
<rect x="874.41" y="374.68" width="9.55" height="12.58" fill="#96d6bb"/>
<rect x="883.66" y="374.68" width="9.55" height="12.58" fill="#92d4bc"/>
<rect x="892.92" y="374.68" width="9.55" height="12.58" fill="#d0edc9"/>
<rect x="902.17" y="374.68" width="9.55" height="12.58" fill="#a4dbb6"/>
<rect x="911.42" y="374.68" width="9.55" height="12.58" fill="#afe0b8"/>
<rect x="920.67" y="374.68" width="9.55" height="12.58" fill="#7bccc4"/>
<rect x="929.92" y="374.68" width="9.55" height="12.58" fill="#d0edc9"/>
<rect x="939.18" y="374.68" width="9.55" height="12.58" fill="#084081"/>
<rect x="948.43" y="374.68" width="9.55" height="12.58" fill="#d6efd0"/>
<rect x="957.68" y="374.68" width="9.55" height="12.58" fill="#c1e7c0"/>
<rect x="966.93" y="374.68" width="9.55" height="12.58" fill="#80cec2"/>
<rect x="976.18" y="374.68" width="9.55" height="12.58" fill="#60bdcd"/>
<rect x="985.44" y="374.68" width="9.55" height="12.58" fill="#daf1d4"/>
<rect x="994.69" y="374.68" width="9.55" height="12.58" fill="#daf1d4"/>
<rect x="1003.94" y="374.68" width="9.55" height="12.58" fill="#a8ddb5"/>
<rect x="1013.19" y="374.68" width="9.55" height="12.58" fill="#88d1c0"/>
<rect x="1022.44" y="374.68" width="9.55" height="12.58" fill="#a8ddb5"/>
<rect x="1031.70" y="374.68" width="9.55" height="12.58" fill="#d4eece"/>
<rect x="1040.95" y="374.68" width="9.55" height="12.58" fill="#d6efd0"/>
<rect x="1050.20" y="374.68" width="9.55" height="12.58" fill="#d0edc9"/>
<rect x="1059.45" y="374.68" width="9.55" height="12.58" fill="#dcf1d7"/>
<rect x="818.90" y="386.96" width="9.55" height="12.58" fill="#daf1d4"/>
<rect x="828.15" y="386.96" width="9.55" height="12.58" fill="#60bdcd"/>
<rect x="837.40" y="386.96" width="9.55" height="12.58" fill="#64c0cc"/>
<rect x="846.66" y="386.96" width="9.55" height="12.58" fill="#2485ba"/>
<rect x="855.91" y="386.96" width="9.55" height="12.58" fill="#c1e7c0"/>
<rect x="865.16" y="386.96" width="9.55" height="12.58" fill="#2888bc"/>
<rect x="874.41" y="386.96" width="9.55" height="12.58" fill="#bae4bd"/>
<rect x="883.66" y="386.96" width="9.55" height="12.58" fill="#bee5bf"/>
<rect x="892.92" y="386.96" width="9.55" height="12.58" fill="#2b8cbe"/>
<rect x="902.17" y="386.96" width="9.55" height="12.58" fill="#d6efd0"/>
<rect x="911.42" y="386.96" width="9.55" height="12.58" fill="#ccebc5"/>
<rect x="920.67" y="386.96" width="9.55" height="12.58" fill="#9fdab8"/>
<rect x="929.92" y="386.96" width="9.55" height="12.58" fill="#3598c4"/>
<rect x="939.18" y="386.96" width="9.55" height="12.58" fill="#d6efd0"/>
<rect x="948.43" y="386.96" width="9.55" height="12.58" fill="#084081"/>
<rect x="957.68" y="386.96" width="9.55" height="12.58" fill="#40a3cb"/>
<rect x="966.93" y="386.96" width="9.55" height="12.58" fill="#e5f5df"/>
<rect x="976.18" y="386.96" width="9.55" height="12.58" fill="#69c2ca"/>
<rect x="985.44" y="386.96" width="9.55" height="12.58" fill="#40a3cb"/>
<rect x="994.69" y="386.96" width="9.55" height="12.58" fill="#4bafd1"/>
<rect x="1003.94" y="386.96" width="9.55" height="12.58" fill="#4bafd1"/>
<rect x="1013.19" y="386.96" width="9.55" height="12.58" fill="#57b8d0"/>
<rect x="1022.44" y="386.96" width="9.55" height="12.58" fill="#2b8cbe"/>
<rect x="1031.70" y="386.96" width="9.55" height="12.58" fill="#3598c4"/>
<rect x="1040.95" y="386.96" width="9.55" height="12.58" fill="#0868ac"/>
<rect x="1050.20" y="386.96" width="9.55" height="12.58" fill="#2888bc"/>
<rect x="1059.45" y="386.96" width="9.55" height="12.58" fill="#2181b9"/>
<rect x="818.90" y="399.25" width="9.55" height="12.58" fill="#afe0b8"/>
<rect x="828.15" y="399.25" width="9.55" height="12.58" fill="#c5e8c2"/>
<rect x="837.40" y="399.25" width="9.55" height="12.58" fill="#7bccc4"/>
<rect x="846.66" y="399.25" width="9.55" height="12.58" fill="#1a7ab5"/>
<rect x="855.91" y="399.25" width="9.55" height="12.58" fill="#4eb3d3"/>
<rect x="865.16" y="399.25" width="9.55" height="12.58" fill="#2b8cbe"/>
<rect x="874.41" y="399.25" width="9.55" height="12.58" fill="#a8ddb5"/>
<rect x="883.66" y="399.25" width="9.55" height="12.58" fill="#daf1d4"/>
<rect x="892.92" y="399.25" width="9.55" height="12.58" fill="#3294c2"/>
<rect x="902.17" y="399.25" width="9.55" height="12.58" fill="#d8f0d2"/>
<rect x="911.42" y="399.25" width="9.55" height="12.58" fill="#d6efd0"/>
<rect x="920.67" y="399.25" width="9.55" height="12.58" fill="#4bafd1"/>
<rect x="929.92" y="399.25" width="9.55" height="12.58" fill="#3598c4"/>
<rect x="939.18" y="399.25" width="9.55" height="12.58" fill="#c1e7c0"/>
<rect x="948.43" y="399.25" width="9.55" height="12.58" fill="#40a3cb"/>
<rect x="957.68" y="399.25" width="9.55" height="12.58" fill="#084081"/>
<rect x="966.93" y="399.25" width="9.55" height="12.58" fill="#ccebc5"/>
<rect x="976.18" y="399.25" width="9.55" height="12.58" fill="#2e90c0"/>
<rect x="985.44" y="399.25" width="9.55" height="12.58" fill="#1676b3"/>
<rect x="994.69" y="399.25" width="9.55" height="12.58" fill="#399cc6"/>
<rect x="1003.94" y="399.25" width="9.55" height="12.58" fill="#0868ac"/>
<rect x="1013.19" y="399.25" width="9.55" height="12.58" fill="#0868ac"/>
<rect x="1022.44" y="399.25" width="9.55" height="12.58" fill="#0868ac"/>
<rect x="1031.70" y="399.25" width="9.55" height="12.58" fill="#47abcf"/>
<rect x="1040.95" y="399.25" width="9.55" height="12.58" fill="#3598c4"/>
<rect x="1050.20" y="399.25" width="9.55" height="12.58" fill="#399cc6"/>
<rect x="1059.45" y="399.25" width="9.55" height="12.58" fill="#2e90c0"/>
<rect x="818.90" y="411.53" width="9.55" height="12.58" fill="#d0edc9"/>
<rect x="828.15" y="411.53" width="9.55" height="12.58" fill="#e7f6e1"/>
<rect x="837.40" y="411.53" width="9.55" height="12.58" fill="#afe0b8"/>
<rect x="846.66" y="411.53" width="9.55" height="12.58" fill="#88d1c0"/>
<rect x="855.91" y="411.53" width="9.55" height="12.58" fill="#daf1d4"/>
<rect x="865.16" y="411.53" width="9.55" height="12.58" fill="#c5e8c2"/>
<rect x="874.41" y="411.53" width="9.55" height="12.58" fill="#5cbace"/>
<rect x="883.66" y="411.53" width="9.55" height="12.58" fill="#e0f3db"/>
<rect x="892.92" y="411.53" width="9.55" height="12.58" fill="#e5f5df"/>
<rect x="902.17" y="411.53" width="9.55" height="12.58" fill="#ccebc5"/>
<rect x="911.42" y="411.53" width="9.55" height="12.58" fill="#72c7c7"/>
<rect x="920.67" y="411.53" width="9.55" height="12.58" fill="#4bafd1"/>
<rect x="929.92" y="411.53" width="9.55" height="12.58" fill="#dcf1d7"/>
<rect x="939.18" y="411.53" width="9.55" height="12.58" fill="#80cec2"/>
<rect x="948.43" y="411.53" width="9.55" height="12.58" fill="#e5f5df"/>
<rect x="957.68" y="411.53" width="9.55" height="12.58" fill="#ccebc5"/>
<rect x="966.93" y="411.53" width="9.55" height="12.58" fill="#084081"/>
<rect x="976.18" y="411.53" width="9.55" height="12.58" fill="#d6efd0"/>
<rect x="985.44" y="411.53" width="9.55" height="12.58" fill="#e0f3db"/>
<rect x="994.69" y="411.53" width="9.55" height="12.58" fill="#d4eece"/>
<rect x="1003.94" y="411.53" width="9.55" height="12.58" fill="#88d1c0"/>
<rect x="1013.19" y="411.53" width="9.55" height="12.58" fill="#afe0b8"/>
<rect x="1022.44" y="411.53" width="9.55" height="12.58" fill="#c1e7c0"/>
<rect x="1031.70" y="411.53" width="9.55" height="12.58" fill="#e9f7e3"/>
<rect x="1040.95" y="411.53" width="9.55" height="12.58" fill="#d4eece"/>
<rect x="1050.20" y="411.53" width="9.55" height="12.58" fill="#e9f7e3"/>
<rect x="1059.45" y="411.53" width="9.55" height="12.58" fill="#d4eece"/>
<rect x="818.90" y="423.81" width="9.55" height="12.58" fill="#5cbace"/>
<rect x="828.15" y="423.81" width="9.55" height="12.58" fill="#80cec2"/>
<rect x="837.40" y="423.81" width="9.55" height="12.58" fill="#5cbace"/>
<rect x="846.66" y="423.81" width="9.55" height="12.58" fill="#5cbace"/>
<rect x="855.91" y="423.81" width="9.55" height="12.58" fill="#2b8cbe"/>
<rect x="865.16" y="423.81" width="9.55" height="12.58" fill="#80cec2"/>
<rect x="874.41" y="423.81" width="9.55" height="12.58" fill="#bae4bd"/>
<rect x="883.66" y="423.81" width="9.55" height="12.58" fill="#afe0b8"/>
<rect x="892.92" y="423.81" width="9.55" height="12.58" fill="#47abcf"/>
<rect x="902.17" y="423.81" width="9.55" height="12.58" fill="#ccebc5"/>
<rect x="911.42" y="423.81" width="9.55" height="12.58" fill="#daf1d4"/>
<rect x="920.67" y="423.81" width="9.55" height="12.58" fill="#3ca0c8"/>
<rect x="929.92" y="423.81" width="9.55" height="12.58" fill="#52b6d2"/>
<rect x="939.18" y="423.81" width="9.55" height="12.58" fill="#60bdcd"/>
<rect x="948.43" y="423.81" width="9.55" height="12.58" fill="#69c2ca"/>
<rect x="957.68" y="423.81" width="9.55" height="12.58" fill="#2e90c0"/>
<rect x="966.93" y="423.81" width="9.55" height="12.58" fill="#d6efd0"/>
<rect x="976.18" y="423.81" width="9.55" height="12.58" fill="#084081"/>
<rect x="985.44" y="423.81" width="9.55" height="12.58" fill="#44a7cd"/>
<rect x="994.69" y="423.81" width="9.55" height="12.58" fill="#92d4bc"/>
<rect x="1003.94" y="423.81" width="9.55" height="12.58" fill="#40a3cb"/>
<rect x="1013.19" y="423.81" width="9.55" height="12.58" fill="#1a7ab5"/>
<rect x="1022.44" y="423.81" width="9.55" height="12.58" fill="#2b8cbe"/>
<rect x="1031.70" y="423.81" width="9.55" height="12.58" fill="#52b6d2"/>
<rect x="1040.95" y="423.81" width="9.55" height="12.58" fill="#84cfc1"/>
<rect x="1050.20" y="423.81" width="9.55" height="12.58" fill="#47abcf"/>
<rect x="1059.45" y="423.81" width="9.55" height="12.58" fill="#84cfc1"/>
<rect x="818.90" y="436.09" width="9.55" height="12.58" fill="#b3e1ba"/>
<rect x="828.15" y="436.09" width="9.55" height="12.58" fill="#b3e1ba"/>
<rect x="837.40" y="436.09" width="9.55" height="12.58" fill="#c1e7c0"/>
<rect x="846.66" y="436.09" width="9.55" height="12.58" fill="#40a3cb"/>
<rect x="855.91" y="436.09" width="9.55" height="12.58" fill="#47abcf"/>
<rect x="865.16" y="436.09" width="9.55" height="12.58" fill="#44a7cd"/>
<rect x="874.41" y="436.09" width="9.55" height="12.58" fill="#dcf1d7"/>
<rect x="883.66" y="436.09" width="9.55" height="12.58" fill="#d0edc9"/>
<rect x="892.92" y="436.09" width="9.55" height="12.58" fill="#2888bc"/>
<rect x="902.17" y="436.09" width="9.55" height="12.58" fill="#daf1d4"/>
<rect x="911.42" y="436.09" width="9.55" height="12.58" fill="#e9f7e3"/>
<rect x="920.67" y="436.09" width="9.55" height="12.58" fill="#96d6bb"/>
<rect x="929.92" y="436.09" width="9.55" height="12.58" fill="#2181b9"/>
<rect x="939.18" y="436.09" width="9.55" height="12.58" fill="#daf1d4"/>
<rect x="948.43" y="436.09" width="9.55" height="12.58" fill="#40a3cb"/>
<rect x="957.68" y="436.09" width="9.55" height="12.58" fill="#1676b3"/>
<rect x="966.93" y="436.09" width="9.55" height="12.58" fill="#e0f3db"/>
<rect x="976.18" y="436.09" width="9.55" height="12.58" fill="#44a7cd"/>
<rect x="985.44" y="436.09" width="9.55" height="12.58" fill="#084081"/>
<rect x="994.69" y="436.09" width="9.55" height="12.58" fill="#60bdcd"/>
<rect x="1003.94" y="436.09" width="9.55" height="12.58" fill="#2888bc"/>
<rect x="1013.19" y="436.09" width="9.55" height="12.58" fill="#2888bc"/>
<rect x="1022.44" y="436.09" width="9.55" height="12.58" fill="#2888bc"/>
<rect x="1031.70" y="436.09" width="9.55" height="12.58" fill="#3ca0c8"/>
<rect x="1040.95" y="436.09" width="9.55" height="12.58" fill="#4eb3d3"/>
<rect x="1050.20" y="436.09" width="9.55" height="12.58" fill="#0f6fb0"/>
<rect x="1059.45" y="436.09" width="9.55" height="12.58" fill="#60bdcd"/>
<rect x="818.90" y="448.38" width="9.55" height="12.58" fill="#e9f7e3"/>
<rect x="828.15" y="448.38" width="9.55" height="12.58" fill="#d8f0d2"/>
<rect x="837.40" y="448.38" width="9.55" height="12.58" fill="#64c0cc"/>
<rect x="846.66" y="448.38" width="9.55" height="12.58" fill="#2b8cbe"/>
<rect x="855.91" y="448.38" width="9.55" height="12.58" fill="#e0f3db"/>
<rect x="865.16" y="448.38" width="9.55" height="12.58" fill="#0860a3"/>
<rect x="874.41" y="448.38" width="9.55" height="12.58" fill="#88d1c0"/>
<rect x="883.66" y="448.38" width="9.55" height="12.58" fill="#f5fbee"/>
<rect x="892.92" y="448.38" width="9.55" height="12.58" fill="#60bdcd"/>
<rect x="902.17" y="448.38" width="9.55" height="12.58" fill="#e5f5df"/>
<rect x="911.42" y="448.38" width="9.55" height="12.58" fill="#b6e3bb"/>
<rect x="920.67" y="448.38" width="9.55" height="12.58" fill="#9fdab8"/>
<rect x="929.92" y="448.38" width="9.55" height="12.58" fill="#40a3cb"/>
<rect x="939.18" y="448.38" width="9.55" height="12.58" fill="#daf1d4"/>
<rect x="948.43" y="448.38" width="9.55" height="12.58" fill="#4bafd1"/>
<rect x="957.68" y="448.38" width="9.55" height="12.58" fill="#399cc6"/>
<rect x="966.93" y="448.38" width="9.55" height="12.58" fill="#d4eece"/>
<rect x="976.18" y="448.38" width="9.55" height="12.58" fill="#92d4bc"/>
<rect x="985.44" y="448.38" width="9.55" height="12.58" fill="#60bdcd"/>
<rect x="994.69" y="448.38" width="9.55" height="12.58" fill="#084081"/>
<rect x="1003.94" y="448.38" width="9.55" height="12.58" fill="#44a7cd"/>
<rect x="1013.19" y="448.38" width="9.55" height="12.58" fill="#47abcf"/>
<rect x="1022.44" y="448.38" width="9.55" height="12.58" fill="#2888bc"/>
<rect x="1031.70" y="448.38" width="9.55" height="12.58" fill="#44a7cd"/>
<rect x="1040.95" y="448.38" width="9.55" height="12.58" fill="#3294c2"/>
<rect x="1050.20" y="448.38" width="9.55" height="12.58" fill="#72c7c7"/>
<rect x="1059.45" y="448.38" width="9.55" height="12.58" fill="#2485ba"/>
<rect x="818.90" y="460.66" width="9.55" height="12.58" fill="#ccebc5"/>
<rect x="828.15" y="460.66" width="9.55" height="12.58" fill="#c5e8c2"/>
<rect x="837.40" y="460.66" width="9.55" height="12.58" fill="#72c7c7"/>
<rect x="846.66" y="460.66" width="9.55" height="12.58" fill="#0868ac"/>
<rect x="855.91" y="460.66" width="9.55" height="12.58" fill="#64c0cc"/>
<rect x="865.16" y="460.66" width="9.55" height="12.58" fill="#3294c2"/>
<rect x="874.41" y="460.66" width="9.55" height="12.58" fill="#afe0b8"/>
<rect x="883.66" y="460.66" width="9.55" height="12.58" fill="#dcf1d7"/>
<rect x="892.92" y="460.66" width="9.55" height="12.58" fill="#40a3cb"/>
<rect x="902.17" y="460.66" width="9.55" height="12.58" fill="#d4eece"/>
<rect x="911.42" y="460.66" width="9.55" height="12.58" fill="#d0edc9"/>
<rect x="920.67" y="460.66" width="9.55" height="12.58" fill="#2e90c0"/>
<rect x="929.92" y="460.66" width="9.55" height="12.58" fill="#2e90c0"/>
<rect x="939.18" y="460.66" width="9.55" height="12.58" fill="#a8ddb5"/>
<rect x="948.43" y="460.66" width="9.55" height="12.58" fill="#4bafd1"/>
<rect x="957.68" y="460.66" width="9.55" height="12.58" fill="#0868ac"/>
<rect x="966.93" y="460.66" width="9.55" height="12.58" fill="#88d1c0"/>
<rect x="976.18" y="460.66" width="9.55" height="12.58" fill="#40a3cb"/>
<rect x="985.44" y="460.66" width="9.55" height="12.58" fill="#2888bc"/>
<rect x="994.69" y="460.66" width="9.55" height="12.58" fill="#44a7cd"/>
<rect x="1003.94" y="460.66" width="9.55" height="12.58" fill="#084081"/>
<rect x="1013.19" y="460.66" width="9.55" height="12.58" fill="#0860a3"/>
<rect x="1022.44" y="460.66" width="9.55" height="12.58" fill="#1273b1"/>
<rect x="1031.70" y="460.66" width="9.55" height="12.58" fill="#52b6d2"/>
<rect x="1040.95" y="460.66" width="9.55" height="12.58" fill="#399cc6"/>
<rect x="1050.20" y="460.66" width="9.55" height="12.58" fill="#3294c2"/>
<rect x="1059.45" y="460.66" width="9.55" height="12.58" fill="#3ca0c8"/>
<rect x="818.90" y="472.94" width="9.55" height="12.58" fill="#8dd3be"/>
<rect x="828.15" y="472.94" width="9.55" height="12.58" fill="#c5e8c2"/>
<rect x="837.40" y="472.94" width="9.55" height="12.58" fill="#7bccc4"/>
<rect x="846.66" y="472.94" width="9.55" height="12.58" fill="#2485ba"/>
<rect x="855.91" y="472.94" width="9.55" height="12.58" fill="#4eb3d3"/>
<rect x="865.16" y="472.94" width="9.55" height="12.58" fill="#40a3cb"/>
<rect x="874.41" y="472.94" width="9.55" height="12.58" fill="#afe0b8"/>
<rect x="883.66" y="472.94" width="9.55" height="12.58" fill="#d6efd0"/>
<rect x="892.92" y="472.94" width="9.55" height="12.58" fill="#44a7cd"/>
<rect x="902.17" y="472.94" width="9.55" height="12.58" fill="#d0edc9"/>
<rect x="911.42" y="472.94" width="9.55" height="12.58" fill="#d0edc9"/>
<rect x="920.67" y="472.94" width="9.55" height="12.58" fill="#3294c2"/>
<rect x="929.92" y="472.94" width="9.55" height="12.58" fill="#2888bc"/>
<rect x="939.18" y="472.94" width="9.55" height="12.58" fill="#88d1c0"/>
<rect x="948.43" y="472.94" width="9.55" height="12.58" fill="#57b8d0"/>
<rect x="957.68" y="472.94" width="9.55" height="12.58" fill="#0868ac"/>
<rect x="966.93" y="472.94" width="9.55" height="12.58" fill="#afe0b8"/>
<rect x="976.18" y="472.94" width="9.55" height="12.58" fill="#1a7ab5"/>
<rect x="985.44" y="472.94" width="9.55" height="12.58" fill="#2888bc"/>
<rect x="994.69" y="472.94" width="9.55" height="12.58" fill="#47abcf"/>
<rect x="1003.94" y="472.94" width="9.55" height="12.58" fill="#0860a3"/>
<rect x="1013.19" y="472.94" width="9.55" height="12.58" fill="#084081"/>
<rect x="1022.44" y="472.94" width="9.55" height="12.58" fill="#0b6cae"/>
<rect x="1031.70" y="472.94" width="9.55" height="12.58" fill="#44a7cd"/>
<rect x="1040.95" y="472.94" width="9.55" height="12.58" fill="#4bafd1"/>
<rect x="1050.20" y="472.94" width="9.55" height="12.58" fill="#3294c2"/>
<rect x="1059.45" y="472.94" width="9.55" height="12.58" fill="#52b6d2"/>
<rect x="818.90" y="485.23" width="9.55" height="12.58" fill="#b3e1ba"/>
<rect x="828.15" y="485.23" width="9.55" height="12.58" fill="#c1e7c0"/>
<rect x="837.40" y="485.23" width="9.55" height="12.58" fill="#5cbace"/>
<rect x="846.66" y="485.23" width="9.55" height="12.58" fill="#0f6fb0"/>
<rect x="855.91" y="485.23" width="9.55" height="12.58" fill="#84cfc1"/>
<rect x="865.16" y="485.23" width="9.55" height="12.58" fill="#1a7ab5"/>
<rect x="874.41" y="485.23" width="9.55" height="12.58" fill="#8dd3be"/>
<rect x="883.66" y="485.23" width="9.55" height="12.58" fill="#d8f0d2"/>
<rect x="892.92" y="485.23" width="9.55" height="12.58" fill="#3294c2"/>
<rect x="902.17" y="485.23" width="9.55" height="12.58" fill="#d6efd0"/>
<rect x="911.42" y="485.23" width="9.55" height="12.58" fill="#b6e3bb"/>
<rect x="920.67" y="485.23" width="9.55" height="12.58" fill="#57b8d0"/>
<rect x="929.92" y="485.23" width="9.55" height="12.58" fill="#2485ba"/>
<rect x="939.18" y="485.23" width="9.55" height="12.58" fill="#a8ddb5"/>
<rect x="948.43" y="485.23" width="9.55" height="12.58" fill="#2b8cbe"/>
<rect x="957.68" y="485.23" width="9.55" height="12.58" fill="#0868ac"/>
<rect x="966.93" y="485.23" width="9.55" height="12.58" fill="#c1e7c0"/>
<rect x="976.18" y="485.23" width="9.55" height="12.58" fill="#2b8cbe"/>
<rect x="985.44" y="485.23" width="9.55" height="12.58" fill="#2888bc"/>
<rect x="994.69" y="485.23" width="9.55" height="12.58" fill="#2888bc"/>
<rect x="1003.94" y="485.23" width="9.55" height="12.58" fill="#1273b1"/>
<rect x="1013.19" y="485.23" width="9.55" height="12.58" fill="#0b6cae"/>
<rect x="1022.44" y="485.23" width="9.55" height="12.58" fill="#084081"/>
<rect x="1031.70" y="485.23" width="9.55" height="12.58" fill="#2e90c0"/>
<rect x="1040.95" y="485.23" width="9.55" height="12.58" fill="#2888bc"/>
<rect x="1050.20" y="485.23" width="9.55" height="12.58" fill="#2e90c0"/>
<rect x="1059.45" y="485.23" width="9.55" height="12.58" fill="#2485ba"/>
<rect x="818.90" y="497.51" width="9.55" height="12.58" fill="#c1e7c0"/>
<rect x="828.15" y="497.51" width="9.55" height="12.58" fill="#a8ddb5"/>
<rect x="837.40" y="497.51" width="9.55" height="12.58" fill="#92d4bc"/>
<rect x="846.66" y="497.51" width="9.55" height="12.58" fill="#57b8d0"/>
<rect x="855.91" y="497.51" width="9.55" height="12.58" fill="#bae4bd"/>
<rect x="865.16" y="497.51" width="9.55" height="12.58" fill="#399cc6"/>
<rect x="874.41" y="497.51" width="9.55" height="12.58" fill="#d4eece"/>
<rect x="883.66" y="497.51" width="9.55" height="12.58" fill="#d0edc9"/>
<rect x="892.92" y="497.51" width="9.55" height="12.58" fill="#3294c2"/>
<rect x="902.17" y="497.51" width="9.55" height="12.58" fill="#ccebc5"/>
<rect x="911.42" y="497.51" width="9.55" height="12.58" fill="#d6efd0"/>
<rect x="920.67" y="497.51" width="9.55" height="12.58" fill="#a8ddb5"/>
<rect x="929.92" y="497.51" width="9.55" height="12.58" fill="#1a7ab5"/>
<rect x="939.18" y="497.51" width="9.55" height="12.58" fill="#d4eece"/>
<rect x="948.43" y="497.51" width="9.55" height="12.58" fill="#3598c4"/>
<rect x="957.68" y="497.51" width="9.55" height="12.58" fill="#47abcf"/>
<rect x="966.93" y="497.51" width="9.55" height="12.58" fill="#e9f7e3"/>
<rect x="976.18" y="497.51" width="9.55" height="12.58" fill="#52b6d2"/>
<rect x="985.44" y="497.51" width="9.55" height="12.58" fill="#3ca0c8"/>
<rect x="994.69" y="497.51" width="9.55" height="12.58" fill="#44a7cd"/>
<rect x="1003.94" y="497.51" width="9.55" height="12.58" fill="#52b6d2"/>
<rect x="1013.19" y="497.51" width="9.55" height="12.58" fill="#44a7cd"/>
<rect x="1022.44" y="497.51" width="9.55" height="12.58" fill="#2e90c0"/>
<rect x="1031.70" y="497.51" width="9.55" height="12.58" fill="#084081"/>
<rect x="1040.95" y="497.51" width="9.55" height="12.58" fill="#4bafd1"/>
<rect x="1050.20" y="497.51" width="9.55" height="12.58" fill="#2b8cbe"/>
<rect x="1059.45" y="497.51" width="9.55" height="12.58" fill="#69c2ca"/>
<rect x="818.90" y="509.79" width="9.55" height="12.58" fill="#e7f6e1"/>
<rect x="828.15" y="509.79" width="9.55" height="12.58" fill="#9fdab8"/>
<rect x="837.40" y="509.79" width="9.55" height="12.58" fill="#47abcf"/>
<rect x="846.66" y="509.79" width="9.55" height="12.58" fill="#0f6fb0"/>
<rect x="855.91" y="509.79" width="9.55" height="12.58" fill="#c5e8c2"/>
<rect x="865.16" y="509.79" width="9.55" height="12.58" fill="#1273b1"/>
<rect x="874.41" y="509.79" width="9.55" height="12.58" fill="#a8ddb5"/>
<rect x="883.66" y="509.79" width="9.55" height="12.58" fill="#e5f5df"/>
<rect x="892.92" y="509.79" width="9.55" height="12.58" fill="#3598c4"/>
<rect x="902.17" y="509.79" width="9.55" height="12.58" fill="#daf1d4"/>
<rect x="911.42" y="509.79" width="9.55" height="12.58" fill="#bae4bd"/>
<rect x="920.67" y="509.79" width="9.55" height="12.58" fill="#7bccc4"/>
<rect x="929.92" y="509.79" width="9.55" height="12.58" fill="#47abcf"/>
<rect x="939.18" y="509.79" width="9.55" height="12.58" fill="#d6efd0"/>
<rect x="948.43" y="509.79" width="9.55" height="12.58" fill="#0868ac"/>
<rect x="957.68" y="509.79" width="9.55" height="12.58" fill="#3598c4"/>
<rect x="966.93" y="509.79" width="9.55" height="12.58" fill="#d4eece"/>
<rect x="976.18" y="509.79" width="9.55" height="12.58" fill="#84cfc1"/>
<rect x="985.44" y="509.79" width="9.55" height="12.58" fill="#4eb3d3"/>
<rect x="994.69" y="509.79" width="9.55" height="12.58" fill="#3294c2"/>
<rect x="1003.94" y="509.79" width="9.55" height="12.58" fill="#399cc6"/>
<rect x="1013.19" y="509.79" width="9.55" height="12.58" fill="#4bafd1"/>
<rect x="1022.44" y="509.79" width="9.55" height="12.58" fill="#2888bc"/>
<rect x="1031.70" y="509.79" width="9.55" height="12.58" fill="#4bafd1"/>
<rect x="1040.95" y="509.79" width="9.55" height="12.58" fill="#084081"/>
<rect x="1050.20" y="509.79" width="9.55" height="12.58" fill="#44a7cd"/>
<rect x="1059.45" y="509.79" width="9.55" height="12.58" fill="#0b6cae"/>
<rect x="818.90" y="522.08" width="9.55" height="12.58" fill="#b3e1ba"/>
<rect x="828.15" y="522.08" width="9.55" height="12.58" fill="#afe0b8"/>
<rect x="837.40" y="522.08" width="9.55" height="12.58" fill="#bae4bd"/>
<rect x="846.66" y="522.08" width="9.55" height="12.58" fill="#4eb3d3"/>
<rect x="855.91" y="522.08" width="9.55" height="12.58" fill="#69c2ca"/>
<rect x="865.16" y="522.08" width="9.55" height="12.58" fill="#47abcf"/>
<rect x="874.41" y="522.08" width="9.55" height="12.58" fill="#daf1d4"/>
<rect x="883.66" y="522.08" width="9.55" height="12.58" fill="#d0edc9"/>
<rect x="892.92" y="522.08" width="9.55" height="12.58" fill="#2b8cbe"/>
<rect x="902.17" y="522.08" width="9.55" height="12.58" fill="#ccebc5"/>
<rect x="911.42" y="522.08" width="9.55" height="12.58" fill="#e0f3db"/>
<rect x="920.67" y="522.08" width="9.55" height="12.58" fill="#a8ddb5"/>
<rect x="929.92" y="522.08" width="9.55" height="12.58" fill="#2181b9"/>
<rect x="939.18" y="522.08" width="9.55" height="12.58" fill="#d0edc9"/>
<rect x="948.43" y="522.08" width="9.55" height="12.58" fill="#2888bc"/>
<rect x="957.68" y="522.08" width="9.55" height="12.58" fill="#399cc6"/>
<rect x="966.93" y="522.08" width="9.55" height="12.58" fill="#e9f7e3"/>
<rect x="976.18" y="522.08" width="9.55" height="12.58" fill="#47abcf"/>
<rect x="985.44" y="522.08" width="9.55" height="12.58" fill="#0f6fb0"/>
<rect x="994.69" y="522.08" width="9.55" height="12.58" fill="#72c7c7"/>
<rect x="1003.94" y="522.08" width="9.55" height="12.58" fill="#3294c2"/>
<rect x="1013.19" y="522.08" width="9.55" height="12.58" fill="#3294c2"/>
<rect x="1022.44" y="522.08" width="9.55" height="12.58" fill="#2e90c0"/>
<rect x="1031.70" y="522.08" width="9.55" height="12.58" fill="#2b8cbe"/>
<rect x="1040.95" y="522.08" width="9.55" height="12.58" fill="#44a7cd"/>
<rect x="1050.20" y="522.08" width="9.55" height="12.58" fill="#084081"/>
<rect x="1059.45" y="522.08" width="9.55" height="12.58" fill="#64c0cc"/>
<rect x="818.90" y="534.36" width="9.55" height="12.58" fill="#eef8e8"/>
<rect x="828.15" y="534.36" width="9.55" height="12.58" fill="#c8eac3"/>
<rect x="837.40" y="534.36" width="9.55" height="12.58" fill="#52b6d2"/>
<rect x="846.66" y="534.36" width="9.55" height="12.58" fill="#1a7ab5"/>
<rect x="855.91" y="534.36" width="9.55" height="12.58" fill="#e0f3db"/>
<rect x="865.16" y="534.36" width="9.55" height="12.58" fill="#0868ac"/>
<rect x="874.41" y="534.36" width="9.55" height="12.58" fill="#84cfc1"/>
<rect x="883.66" y="534.36" width="9.55" height="12.58" fill="#eef8e8"/>
<rect x="892.92" y="534.36" width="9.55" height="12.58" fill="#47abcf"/>
<rect x="902.17" y="534.36" width="9.55" height="12.58" fill="#e5f5df"/>
<rect x="911.42" y="534.36" width="9.55" height="12.58" fill="#bae4bd"/>
<rect x="920.67" y="534.36" width="9.55" height="12.58" fill="#84cfc1"/>
<rect x="929.92" y="534.36" width="9.55" height="12.58" fill="#57b8d0"/>
<rect x="939.18" y="534.36" width="9.55" height="12.58" fill="#dcf1d7"/>
<rect x="948.43" y="534.36" width="9.55" height="12.58" fill="#2181b9"/>
<rect x="957.68" y="534.36" width="9.55" height="12.58" fill="#2e90c0"/>
<rect x="966.93" y="534.36" width="9.55" height="12.58" fill="#d4eece"/>
<rect x="976.18" y="534.36" width="9.55" height="12.58" fill="#84cfc1"/>
<rect x="985.44" y="534.36" width="9.55" height="12.58" fill="#60bdcd"/>
<rect x="994.69" y="534.36" width="9.55" height="12.58" fill="#2485ba"/>
<rect x="1003.94" y="534.36" width="9.55" height="12.58" fill="#3ca0c8"/>
<rect x="1013.19" y="534.36" width="9.55" height="12.58" fill="#52b6d2"/>
<rect x="1022.44" y="534.36" width="9.55" height="12.58" fill="#2485ba"/>
<rect x="1031.70" y="534.36" width="9.55" height="12.58" fill="#69c2ca"/>
<rect x="1040.95" y="534.36" width="9.55" height="12.58" fill="#0b6cae"/>
<rect x="1050.20" y="534.36" width="9.55" height="12.58" fill="#64c0cc"/>
<rect x="1059.45" y="534.36" width="9.55" height="12.58" fill="#084081"/>
</g>
<text x="818" y="224.24" text-anchor="end" font-size="8.8" fill="#2a3f5f" textLength="92.5" lengthAdjust="spacingAndGlyphs">0_cautious_be_be cautious</text>
<text transform="translate(819.43,552.2) rotate(90)" x="0" y="0" font-size="7" fill="#2a3f5f" textLength="122.8" lengthAdjust="spacingAndGlyphs">0_cautious_be_be cautious</text>
<text x="818" y="236.52" text-anchor="end" font-size="8.8" fill="#2a3f5f" textLength="78.4" lengthAdjust="spacingAndGlyphs">1_afford_cant afford_it</text>
<text transform="translate(828.68,552.2) rotate(90)" x="0" y="0" font-size="7" fill="#2a3f5f" textLength="104.1" lengthAdjust="spacingAndGlyphs">1_afford_cant afford_it</text>
<text x="818" y="248.81" text-anchor="end" font-size="8.8" fill="#2a3f5f" textLength="67.4" lengthAdjust="spacingAndGlyphs">2_the price_up_still</text>
<text transform="translate(837.93,552.2) rotate(90)" x="0" y="0" font-size="7" fill="#2a3f5f" textLength="89.5" lengthAdjust="spacingAndGlyphs">2_the price_up_still</text>
<text x="818" y="261.09" text-anchor="end" font-size="8.8" fill="#2a3f5f" textLength="101.3" lengthAdjust="spacingAndGlyphs">3_gold prices_prices are_pr...</text>
<text transform="translate(847.18,552.2) rotate(90)" x="0" y="0" font-size="7" fill="#2a3f5f" textLength="134.5" lengthAdjust="spacingAndGlyphs">3_gold prices_prices are_pr...</text>
<text x="818" y="273.37" text-anchor="end" font-size="8.8" fill="#2a3f5f" textLength="82.2" lengthAdjust="spacingAndGlyphs">4_invest_investing_with</text>
<text transform="translate(856.43,552.2) rotate(90)" x="0" y="0" font-size="7" fill="#2a3f5f" textLength="109.2" lengthAdjust="spacingAndGlyphs">4_invest_investing_with</text>
<text x="818" y="285.66" text-anchor="end" font-size="8.8" fill="#2a3f5f" textLength="91.4" lengthAdjust="spacingAndGlyphs">5_rising_prices have_risen</text>
<text transform="translate(865.69,552.2) rotate(90)" x="0" y="0" font-size="7" fill="#2a3f5f" textLength="121.4" lengthAdjust="spacingAndGlyphs">5_rising_prices have_risen</text>
<text x="818" y="297.94" text-anchor="end" font-size="8.8" fill="#2a3f5f" textLength="56.0" lengthAdjust="spacingAndGlyphs">6_rising_its_fast</text>
<text transform="translate(874.94,552.2) rotate(90)" x="0" y="0" font-size="7" fill="#2a3f5f" textLength="74.4" lengthAdjust="spacingAndGlyphs">6_rising_its_fast</text>
<text x="818" y="310.22" text-anchor="end" font-size="8.8" fill="#2a3f5f" textLength="65.5" lengthAdjust="spacingAndGlyphs">7_dont_it_ordinary</text>
<text transform="translate(884.19,552.2) rotate(90)" x="0" y="0" font-size="7" fill="#2a3f5f" textLength="87.0" lengthAdjust="spacingAndGlyphs">7_dont_it_ordinary</text>
<text x="818" y="322.51" text-anchor="end" font-size="8.8" fill="#2a3f5f" textLength="90.2" lengthAdjust="spacingAndGlyphs">8_jewelry_gold jewelry_to</text>
<text transform="translate(893.44,552.2) rotate(90)" x="0" y="0" font-size="7" fill="#2a3f5f" textLength="119.8" lengthAdjust="spacingAndGlyphs">8_jewelry_gold jewelry_to</text>
<text x="818" y="334.79" text-anchor="end" font-size="8.8" fill="#2a3f5f" textLength="40.3" lengthAdjust="spacingAndGlyphs">9_just_ill_let</text>
<text transform="translate(902.69,552.2) rotate(90)" x="0" y="0" font-size="7" fill="#2a3f5f" textLength="53.5" lengthAdjust="spacingAndGlyphs">9_just_ill_let</text>
<text x="818" y="347.07" text-anchor="end" font-size="8.8" fill="#2a3f5f" textLength="47.2" lengthAdjust="spacingAndGlyphs">10_up_it_why</text>
<text transform="translate(911.95,552.2) rotate(90)" x="0" y="0" font-size="7" fill="#2a3f5f" textLength="62.7" lengthAdjust="spacingAndGlyphs">10_up_it_why</text>
<text x="818" y="359.35" text-anchor="end" font-size="8.8" fill="#2a3f5f" textLength="97.8" lengthAdjust="spacingAndGlyphs">11_fluctuations are_volatil...</text>
<text transform="translate(921.20,552.2) rotate(90)" x="0" y="0" font-size="7" fill="#2a3f5f" textLength="129.9" lengthAdjust="spacingAndGlyphs">11_fluctuations are_volatil...</text>
<text x="818" y="371.64" text-anchor="end" font-size="8.8" fill="#2a3f5f" textLength="103.5" lengthAdjust="spacingAndGlyphs">12_longterm_for_for longterm</text>
<text transform="translate(930.45,552.2) rotate(90)" x="0" y="0" font-size="7" fill="#2a3f5f" textLength="137.4" lengthAdjust="spacingAndGlyphs">12_longterm_for_for longterm</text>
<text x="818" y="383.92" text-anchor="end" font-size="8.8" fill="#2a3f5f" textLength="97.8" lengthAdjust="spacingAndGlyphs">13_blindly follow_blindly_f...</text>
<text transform="translate(939.70,552.2) rotate(90)" x="0" y="0" font-size="7" fill="#2a3f5f" textLength="129.9" lengthAdjust="spacingAndGlyphs">13_blindly follow_blindly_f...</text>
<text x="818" y="396.20" text-anchor="end" font-size="8.8" fill="#2a3f5f" textLength="108.5" lengthAdjust="spacingAndGlyphs">14_expensive_too expensive_...</text>
<text transform="translate(948.95,552.2) rotate(90)" x="0" y="0" font-size="7" fill="#2a3f5f" textLength="144.1" lengthAdjust="spacingAndGlyphs">14_expensive_too expensive_...</text>
<text x="818" y="408.49" text-anchor="end" font-size="8.8" fill="#2a3f5f" textLength="102.8" lengthAdjust="spacingAndGlyphs">15_caution_exercise_exercis...</text>
<text transform="translate(958.21,552.2) rotate(90)" x="0" y="0" font-size="7" fill="#2a3f5f" textLength="136.5" lengthAdjust="spacingAndGlyphs">15_caution_exercise_exercis...</text>
<text x="818" y="420.77" text-anchor="end" font-size="8.8" fill="#2a3f5f" textLength="99.7" lengthAdjust="spacingAndGlyphs">16_fluctuations_fluctuation...</text>
<text transform="translate(967.46,552.2) rotate(90)" x="0" y="0" font-size="7" fill="#2a3f5f" textLength="132.4" lengthAdjust="spacingAndGlyphs">16_fluctuations_fluctuation...</text>
<text x="818" y="433.05" text-anchor="end" font-size="8.8" fill="#2a3f5f" textLength="81.8" lengthAdjust="spacingAndGlyphs">17_chasing_avoid_need</text>
<text transform="translate(976.71,552.2) rotate(90)" x="0" y="0" font-size="7" fill="#2a3f5f" textLength="108.6" lengthAdjust="spacingAndGlyphs">17_chasing_avoid_need</text>
<text x="818" y="445.34" text-anchor="end" font-size="8.8" fill="#2a3f5f" textLength="103.5" lengthAdjust="spacingAndGlyphs">18_requires caution_require...</text>
<text transform="translate(985.96,552.2) rotate(90)" x="0" y="0" font-size="7" fill="#2a3f5f" textLength="137.4" lengthAdjust="spacingAndGlyphs">18_requires caution_require...</text>
<text x="818" y="457.62" text-anchor="end" font-size="8.8" fill="#2a3f5f" textLength="65.8" lengthAdjust="spacingAndGlyphs">19_will_to rise_rise</text>
<text transform="translate(995.21,552.2) rotate(90)" x="0" y="0" font-size="7" fill="#2a3f5f" textLength="87.4" lengthAdjust="spacingAndGlyphs">19_will_to rise_rise</text>
<text x="818" y="469.90" text-anchor="end" font-size="8.8" fill="#2a3f5f" textLength="97.8" lengthAdjust="spacingAndGlyphs">20_price fluctuations_fluct...</text>
<text transform="translate(1004.47,552.2) rotate(90)" x="0" y="0" font-size="7" fill="#2a3f5f" textLength="129.9" lengthAdjust="spacingAndGlyphs">20_price fluctuations_fluct...</text>
<text x="818" y="482.18" text-anchor="end" font-size="8.8" fill="#2a3f5f" textLength="97.8" lengthAdjust="spacingAndGlyphs">21_rational_volatility_inve...</text>
<text transform="translate(1013.72,552.2) rotate(90)" x="0" y="0" font-size="7" fill="#2a3f5f" textLength="129.9" lengthAdjust="spacingAndGlyphs">21_rational_volatility_inve...</text>
<text x="818" y="494.47" text-anchor="end" font-size="8.8" fill="#2a3f5f" textLength="74.2" lengthAdjust="spacingAndGlyphs">22_high_market_may</text>
<text transform="translate(1022.97,552.2) rotate(90)" x="0" y="0" font-size="7" fill="#2a3f5f" textLength="98.5" lengthAdjust="spacingAndGlyphs">22_high_market_may</text>
<text x="818" y="506.75" text-anchor="end" font-size="8.8" fill="#2a3f5f" textLength="94.0" lengthAdjust="spacingAndGlyphs">23_value_of value_the best</text>
<text transform="translate(1032.22,552.2) rotate(90)" x="0" y="0" font-size="7" fill="#2a3f5f" textLength="124.8" lengthAdjust="spacingAndGlyphs">23_value_of value_the best</text>
<text x="818" y="519.03" text-anchor="end" font-size="8.8" fill="#2a3f5f" textLength="97.0" lengthAdjust="spacingAndGlyphs">24_more_getting_expensive</text>
<text transform="translate(1041.47,552.2) rotate(90)" x="0" y="0" font-size="7" fill="#2a3f5f" textLength="128.8" lengthAdjust="spacingAndGlyphs">24_more_getting_expensive</text>
<text x="818" y="531.32" text-anchor="end" font-size="8.8" fill="#2a3f5f" textLength="99.0" lengthAdjust="spacingAndGlyphs">25_your_in gold_investing in</text>
<text transform="translate(1050.73,552.2) rotate(90)" x="0" y="0" font-size="7" fill="#2a3f5f" textLength="131.5" lengthAdjust="spacingAndGlyphs">25_your_in gold_investing in</text>
<text x="818" y="543.60" text-anchor="end" font-size="8.8" fill="#2a3f5f" textLength="102.8" lengthAdjust="spacingAndGlyphs">26_prices are_gold prices_too</text>
<text transform="translate(1059.98,552.2) rotate(90)" x="0" y="0" font-size="7" fill="#2a3f5f" textLength="136.5" lengthAdjust="spacingAndGlyphs">26_prices are_gold prices_too</text>
<defs><linearGradient id="cb" x1="0" y1="1" x2="0" y2="0">
<stop offset="0.0000" stop-color="#f7fcf0"/>
<stop offset="0.1250" stop-color="#e0f3db"/>
<stop offset="0.2500" stop-color="#ccebc5"/>
<stop offset="0.3750" stop-color="#a8ddb5"/>
<stop offset="0.5000" stop-color="#7bccc4"/>
<stop offset="0.6250" stop-color="#4eb3d3"/>
<stop offset="0.7500" stop-color="#2b8cbe"/>
<stop offset="0.8750" stop-color="#0868ac"/>
<stop offset="1.0000" stop-color="#084081"/>
</linearGradient><clipPath id="cbclip"><rect x="1070" y="150" width="21.6" height="30"/></clipPath></defs>
<rect x="1079.3" y="175.4" width="12.3" height="427.8" fill="url(#cb)"/>
<text x="1079.3" y="169.0" font-size="10.5" fill="#2a3f5f" clip-path="url(#cbclip)" textLength="62" lengthAdjust="spacingAndGlyphs">Similarity Score</text>
<rect x="1080.3" y="665.9" width="24.4" height="32.6" fill="#808080"/>
<text x="1083.5" y="687.8" font-size="20.0" fill="#000" textLength="17.2" lengthAdjust="spacingAndGlyphs">1b</text>
</svg></body></html>
